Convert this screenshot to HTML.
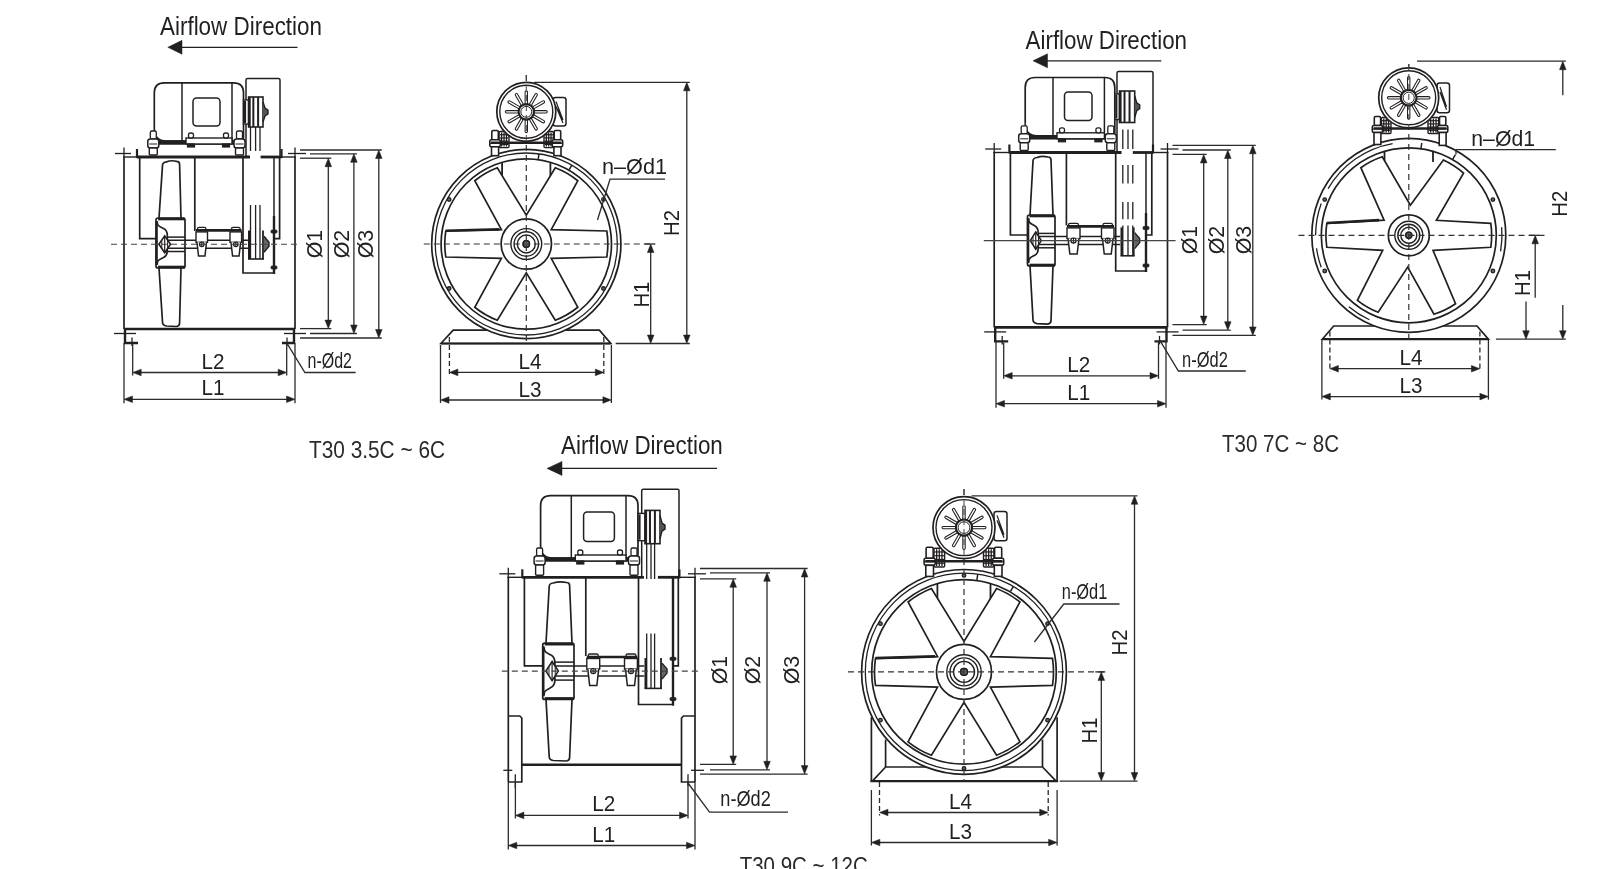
<!DOCTYPE html>
<html><head><meta charset="utf-8"><style>
html,body{margin:0;padding:0;background:#fff;}
svg{display:block;font-family:"Liberation Sans",sans-serif;will-change:transform;}
</style></head><body>
<svg width="1600" height="869" viewBox="0 0 1600 869">
<rect width="1600" height="869" fill="#fff"/>
<text x="160" y="35.4" font-size="25.5" text-anchor="start" fill="#231f20" textLength="162" lengthAdjust="spacingAndGlyphs">Airflow Direction</text>
<line x1="181" y1="47.3" x2="297.5" y2="47.3" stroke="#231f20" stroke-width="1.3" stroke-linecap="butt"/>
<polygon points="167.8,47.3 182,40.3 182,54.3" fill="#231f20" stroke="#231f20" stroke-width="0.5" stroke-linejoin="miter"/>
<line x1="123" y1="157" x2="137" y2="157" stroke="#231f20" stroke-width="1.4" stroke-linecap="butt"/>
<line x1="137" y1="157" x2="250" y2="157" stroke="#231f20" stroke-width="2.8" stroke-linecap="butt"/>
<line x1="260.6" y1="157" x2="281.5" y2="157" stroke="#231f20" stroke-width="2.8" stroke-linecap="butt"/>
<line x1="281.5" y1="157" x2="296" y2="157" stroke="#231f20" stroke-width="1.4" stroke-linecap="butt"/>
<line x1="137" y1="149" x2="137" y2="158" stroke="#231f20" stroke-width="2.2" stroke-linecap="butt"/>
<line x1="281.5" y1="149" x2="281.5" y2="158" stroke="#231f20" stroke-width="2.2" stroke-linecap="butt"/>
<line x1="115" y1="153.5" x2="131" y2="153.5" stroke="#231f20" stroke-width="1.3" stroke-linecap="butt"/>
<line x1="124" y1="147.5" x2="124" y2="157" stroke="#231f20" stroke-width="1.3" stroke-linecap="butt"/>
<line x1="288" y1="153.5" x2="306" y2="153.5" stroke="#231f20" stroke-width="1.3" stroke-linecap="butt"/>
<line x1="295" y1="147.5" x2="295" y2="157" stroke="#231f20" stroke-width="1.3" stroke-linecap="butt"/>
<line x1="124" y1="157" x2="124" y2="329" stroke="#231f20" stroke-width="1.7" stroke-linecap="butt"/>
<line x1="295" y1="157" x2="295" y2="329" stroke="#231f20" stroke-width="1.7" stroke-linecap="butt"/>
<line x1="124" y1="329" x2="295" y2="329" stroke="#231f20" stroke-width="2.6" stroke-linecap="butt"/>
<polyline points="125,329 125,343 138,343" fill="none" stroke="#231f20" stroke-width="2.4" stroke-linejoin="miter"/>
<polyline points="294,329 294,343 282,343" fill="none" stroke="#231f20" stroke-width="2.4" stroke-linejoin="miter"/>
<line x1="114" y1="333.5" x2="136" y2="333.5" stroke="#231f20" stroke-width="1.3" stroke-linecap="butt"/>
<line x1="284" y1="333.5" x2="306" y2="333.5" stroke="#231f20" stroke-width="1.3" stroke-linecap="butt"/>
<line x1="132" y1="337.5" x2="132" y2="346" stroke="#231f20" stroke-width="1.3" stroke-linecap="butt"/>
<line x1="287" y1="337.5" x2="287" y2="346" stroke="#231f20" stroke-width="1.3" stroke-linecap="butt"/>
<polyline points="139.7,157 139.7,238.6 156,238.6" fill="none" stroke="#231f20" stroke-width="1.7" stroke-linejoin="miter"/>
<path d="M159,218 L162.5,165.4 Q162.5,162.4 166.5,161.9 Q171.05,159.9 176.6,161.4 Q179.6,161.4 179.6,164.4 L181,218" fill="none" stroke="#231f20" stroke-width="1.7" />
<path d="M159,268 L162.5,322 Q162.5,325.5 166.5,326 L176.6,326.5 Q179.6,326 179.6,323 L181,268" fill="none" stroke="#231f20" stroke-width="1.7" />
<rect x="156" y="218" width="29" height="50" rx="2" fill="#fff" stroke="#231f20" stroke-width="1.7"/>
<line x1="158" y1="219" x2="185" y2="219" stroke="#231f20" stroke-width="2.6" stroke-linecap="butt"/>
<line x1="158" y1="267" x2="185" y2="267" stroke="#231f20" stroke-width="2.6" stroke-linecap="butt"/>
<path d="M157.45,221.5 C156.58,225.5 159.48,226.5 163.54,228.5 C166.73,230 167.31,233 167.31,235.5 L167.31,250.5 C167.31,253 166.73,256 163.54,257.5 C159.48,259.5 156.58,260.5 157.45,264.5" fill="none" stroke="#231f20" stroke-width="1.7" />
<line x1="156.6" y1="221" x2="156.6" y2="265" stroke="#231f20" stroke-width="2.4" stroke-linecap="butt"/>
<line x1="167.31" y1="237.1" x2="185" y2="237.1" stroke="#231f20" stroke-width="1.5" stroke-linecap="butt"/>
<line x1="167.31" y1="251.5" x2="185" y2="251.5" stroke="#231f20" stroke-width="1.5" stroke-linecap="butt"/>
<line x1="167.31" y1="240.3" x2="248" y2="240.3" stroke="#231f20" stroke-width="1.5" stroke-linecap="butt"/>
<line x1="167.31" y1="248.3" x2="248" y2="248.3" stroke="#231f20" stroke-width="1.5" stroke-linecap="butt"/>
<polygon points="158.9,244.3 164.7,235.8 170.5,244.3 164.7,252.8" fill="#fff" stroke="#231f20" stroke-width="1.6" stroke-linejoin="miter"/>
<line x1="164.7" y1="235.8" x2="164.7" y2="252.8" stroke="#231f20" stroke-width="1.2" stroke-linecap="butt"/>
<line x1="161.8" y1="240.05" x2="161.8" y2="248.55" stroke="#231f20" stroke-width="1.0" stroke-linecap="butt"/>
<line x1="167.6" y1="240.05" x2="167.6" y2="248.55" stroke="#231f20" stroke-width="1.0" stroke-linecap="butt"/>
<line x1="194.8" y1="157" x2="194.8" y2="231" stroke="#231f20" stroke-width="1.7" stroke-linecap="butt"/>
<line x1="196" y1="230.4" x2="241.6" y2="230.4" stroke="#231f20" stroke-width="2.6" stroke-linecap="butt"/>
<rect x="197.5" y="227.4" width="8.5" height="3" rx="1.5" fill="none" stroke="#231f20" stroke-width="1.3"/>
<rect x="196" y="231.9" width="11.5" height="10.4" rx="0" fill="#fff" stroke="#231f20" stroke-width="1.4"/>
<path d="M197,242.3 L198.53,256 L204.97,256 L206.5,242.3" fill="#fff" stroke="#231f20" stroke-width="1.5" />
<circle cx="201.75" cy="244.3" r="2.3" fill="none" stroke="#231f20" stroke-width="1.2"/>
<line x1="199.45" y1="244.3" x2="204.05" y2="244.3" stroke="#231f20" stroke-width="1.0" stroke-linecap="butt"/>
<line x1="201.75" y1="242" x2="201.75" y2="246.6" stroke="#231f20" stroke-width="1.0" stroke-linecap="butt"/>
<rect x="231.5" y="227.4" width="8.6" height="3" rx="1.5" fill="none" stroke="#231f20" stroke-width="1.3"/>
<rect x="230" y="231.9" width="11.6" height="10.4" rx="0" fill="#fff" stroke="#231f20" stroke-width="1.4"/>
<path d="M231,242.3 L232.55,256 L239.05,256 L240.6,242.3" fill="#fff" stroke="#231f20" stroke-width="1.5" />
<circle cx="235.8" cy="244.3" r="2.32" fill="none" stroke="#231f20" stroke-width="1.2"/>
<line x1="233.48" y1="244.3" x2="238.12" y2="244.3" stroke="#231f20" stroke-width="1.0" stroke-linecap="butt"/>
<line x1="235.8" y1="241.98" x2="235.8" y2="246.62" stroke="#231f20" stroke-width="1.0" stroke-linecap="butt"/>
<polyline points="243,157 243,273 274,273" fill="none" stroke="#231f20" stroke-width="1.7" stroke-linejoin="miter"/>
<line x1="274" y1="157" x2="274" y2="274" stroke="#231f20" stroke-width="1.5" stroke-linecap="butt"/>
<line x1="274" y1="216" x2="274" y2="274" stroke="#231f20" stroke-width="2.4" stroke-linecap="butt"/>
<polyline points="279.6,157 279.6,238.6 274,238.6" fill="none" stroke="#231f20" stroke-width="1.7" stroke-linejoin="miter"/>
<rect x="271" y="230.1" width="6" height="3" rx="1" fill="#231f20" stroke="#231f20" stroke-width="0.8"/>
<rect x="271" y="266" width="6" height="3" rx="1" fill="#231f20" stroke="#231f20" stroke-width="0.8"/>
<rect x="248" y="228.5" width="16" height="30.5" rx="0" fill="#fff" stroke="#231f20" stroke-width="0"/>
<line x1="249.2" y1="230.5" x2="249.2" y2="259" stroke="#231f20" stroke-width="2.4" stroke-linecap="butt"/>
<line x1="263" y1="230.5" x2="263" y2="259" stroke="#231f20" stroke-width="1.8" stroke-linecap="butt"/>
<line x1="248" y1="259" x2="264" y2="259" stroke="#231f20" stroke-width="1.6" stroke-linecap="butt"/>
<line x1="250.5" y1="228.5" x2="250.5" y2="259" stroke="#231f20" stroke-width="1.3" stroke-linecap="butt"/>
<line x1="255.6" y1="228.5" x2="255.6" y2="259" stroke="#231f20" stroke-width="1.3" stroke-linecap="butt"/>
<line x1="260" y1="228.5" x2="260" y2="259" stroke="#231f20" stroke-width="1.3" stroke-linecap="butt"/>
<path d="M264,236.3 L269,242.3 L269,246.3 L264,252.3" fill="#666" stroke="#231f20" stroke-width="1.4" />
<line x1="250.5" y1="127" x2="250.5" y2="151" stroke="#231f20" stroke-width="1.3" stroke-linecap="butt"/>
<line x1="250.5" y1="205" x2="250.5" y2="229" stroke="#231f20" stroke-width="1.3" stroke-linecap="butt"/>
<line x1="255.6" y1="127" x2="255.6" y2="151" stroke="#231f20" stroke-width="1.3" stroke-linecap="butt"/>
<line x1="255.6" y1="205" x2="255.6" y2="229" stroke="#231f20" stroke-width="1.3" stroke-linecap="butt"/>
<line x1="260" y1="127" x2="260" y2="151" stroke="#231f20" stroke-width="1.3" stroke-linecap="butt"/>
<line x1="260" y1="205" x2="260" y2="229" stroke="#231f20" stroke-width="1.3" stroke-linecap="butt"/>
<path d="M154.3,129 L154.3,92.8 Q154.3,82.8 164.3,82.8 L233.5,82.8 Q243.5,82.8 243.5,92.8 L243.5,137 Q243.5,141 239.5,144" fill="none" stroke="#231f20" stroke-width="1.7" />
<path d="M154.3,129 Q154.3,141 166.3,141 L233.5,141" fill="none" stroke="#231f20" stroke-width="1.7" />
<line x1="182" y1="82.8" x2="182" y2="141" stroke="#231f20" stroke-width="1.5" stroke-linecap="butt"/>
<line x1="232" y1="82.8" x2="232" y2="141" stroke="#231f20" stroke-width="1.5" stroke-linecap="butt"/>
<rect x="193" y="98" width="27" height="28" rx="3.5" fill="none" stroke="#231f20" stroke-width="1.5"/>
<rect x="150.3" y="141" width="91.2" height="3" rx="0" fill="#231f20" stroke="#231f20" stroke-width="1.5"/>
<rect x="186" y="138" width="46" height="6" rx="0" fill="#fff" stroke="#231f20" stroke-width="1.4"/>
<rect x="150.3" y="131" width="6" height="8" rx="1.5" fill="#fff" stroke="#231f20" stroke-width="1.3"/>
<rect x="147.8" y="139" width="11" height="9" rx="2.5" fill="#fff" stroke="#231f20" stroke-width="1.5"/>
<rect x="149.3" y="148" width="8" height="7" rx="1" fill="#fff" stroke="#231f20" stroke-width="1.4"/>
<line x1="149.3" y1="144" x2="157.3" y2="144" stroke="#231f20" stroke-width="1" stroke-linecap="butt"/>
<rect x="236.5" y="131" width="6" height="8" rx="1.5" fill="#fff" stroke="#231f20" stroke-width="1.3"/>
<rect x="234" y="139" width="11" height="9" rx="2.5" fill="#fff" stroke="#231f20" stroke-width="1.5"/>
<rect x="235.5" y="148" width="8" height="7" rx="1" fill="#fff" stroke="#231f20" stroke-width="1.4"/>
<line x1="235.5" y1="144" x2="243.5" y2="144" stroke="#231f20" stroke-width="1" stroke-linecap="butt"/>
<rect x="188.5" y="133" width="5" height="5" rx="2" fill="#fff" stroke="#231f20" stroke-width="1.3"/>
<rect x="187.5" y="144" width="7" height="3" rx="0" fill="#231f20" stroke="#231f20" stroke-width="1.2"/>
<rect x="223.5" y="133" width="5" height="5" rx="2" fill="#fff" stroke="#231f20" stroke-width="1.3"/>
<rect x="222.5" y="144" width="7" height="3" rx="0" fill="#231f20" stroke="#231f20" stroke-width="1.2"/>
<path d="M246,156 L246,79.9 Q246,78.4 247.5,78.4 L278.5,78.4 Q280,78.4 280,79.9 L280,156" fill="none" stroke="#231f20" stroke-width="1.5" />
<rect x="243.5" y="100" width="5.1" height="24" rx="0" fill="#fff" stroke="#231f20" stroke-width="1.4"/>
<line x1="245" y1="101" x2="245" y2="123" stroke="#231f20" stroke-width="2.2" stroke-linecap="butt"/>
<rect x="248.6" y="97" width="14.4" height="30" rx="0" fill="#fff" stroke="#231f20" stroke-width="1.6"/>
<line x1="253.35" y1="97" x2="253.35" y2="127" stroke="#231f20" stroke-width="2.0" stroke-linecap="butt"/>
<line x1="258.1" y1="97" x2="258.1" y2="127" stroke="#231f20" stroke-width="2.0" stroke-linecap="butt"/>
<line x1="249.6" y1="97" x2="249.6" y2="127" stroke="#231f20" stroke-width="2.2" stroke-linecap="butt"/>
<path d="M263,102 L265,108 L268,110 L268,114 L265,116 L263,122" fill="#555" stroke="#231f20" stroke-width="1.4" />
<line x1="111" y1="244.3" x2="298" y2="244.3" stroke="#444" stroke-width="1.1" stroke-dasharray="6 4" stroke-linecap="butt"/>
<line x1="328.3" y1="162.2" x2="328.3" y2="324.6" stroke="#2b2b2b" stroke-width="1.3" stroke-linecap="butt"/>
<polygon points="328.3,158.2 331.6,166.7 325,166.7" fill="#231f20" stroke="#231f20" stroke-width="0.5" stroke-linejoin="miter"/>
<polygon points="328.3,328.6 325,320.1 331.6,320.1" fill="#231f20" stroke="#231f20" stroke-width="0.5" stroke-linejoin="miter"/>
<line x1="353.9" y1="157.8" x2="353.9" y2="329.5" stroke="#2b2b2b" stroke-width="1.3" stroke-linecap="butt"/>
<polygon points="353.9,153.8 357.2,162.3 350.6,162.3" fill="#231f20" stroke="#231f20" stroke-width="0.5" stroke-linejoin="miter"/>
<polygon points="353.9,333.5 350.6,325 357.2,325" fill="#231f20" stroke="#231f20" stroke-width="0.5" stroke-linejoin="miter"/>
<line x1="378.8" y1="154" x2="378.8" y2="334" stroke="#2b2b2b" stroke-width="1.3" stroke-linecap="butt"/>
<polygon points="378.8,150 382.1,158.5 375.5,158.5" fill="#231f20" stroke="#231f20" stroke-width="0.5" stroke-linejoin="miter"/>
<polygon points="378.8,338 375.5,329.5 382.1,329.5" fill="#231f20" stroke="#231f20" stroke-width="0.5" stroke-linejoin="miter"/>
<line x1="300" y1="158.2" x2="331.3" y2="158.2" stroke="#2b2b2b" stroke-width="1.3" stroke-linecap="butt"/>
<line x1="300" y1="328.6" x2="331.3" y2="328.6" stroke="#2b2b2b" stroke-width="1.3" stroke-linecap="butt"/>
<line x1="310" y1="153.8" x2="356.9" y2="153.8" stroke="#2b2b2b" stroke-width="1.3" stroke-linecap="butt"/>
<line x1="310" y1="333.5" x2="356.9" y2="333.5" stroke="#2b2b2b" stroke-width="1.3" stroke-linecap="butt"/>
<line x1="300" y1="150" x2="381.8" y2="150" stroke="#2b2b2b" stroke-width="1.3" stroke-linecap="butt"/>
<line x1="300" y1="338" x2="381.8" y2="338" stroke="#2b2b2b" stroke-width="1.3" stroke-linecap="butt"/>
<text transform="translate(322.42,244) rotate(-90)" font-size="22" text-anchor="middle" fill="#231f20" textLength="28.6" lengthAdjust="spacingAndGlyphs">Ø1</text>
<text transform="translate(349.42,244) rotate(-90)" font-size="22" text-anchor="middle" fill="#231f20" textLength="28.6" lengthAdjust="spacingAndGlyphs">Ø2</text>
<text transform="translate(373.42,244) rotate(-90)" font-size="22" text-anchor="middle" fill="#231f20" textLength="28.6" lengthAdjust="spacingAndGlyphs">Ø3</text>
<line x1="136.7" y1="372.5" x2="282.7" y2="372.5" stroke="#2b2b2b" stroke-width="1.3" stroke-linecap="butt"/>
<polygon points="132.7,372.5 141.2,369.2 141.2,375.8" fill="#231f20" stroke="#231f20" stroke-width="0.5" stroke-linejoin="miter"/>
<polygon points="286.7,372.5 278.2,375.8 278.2,369.2" fill="#231f20" stroke="#231f20" stroke-width="0.5" stroke-linejoin="miter"/>
<line x1="128" y1="399.3" x2="291" y2="399.3" stroke="#2b2b2b" stroke-width="1.3" stroke-linecap="butt"/>
<polygon points="124,399.3 132.5,396 132.5,402.6" fill="#231f20" stroke="#231f20" stroke-width="0.5" stroke-linejoin="miter"/>
<polygon points="295,399.3 286.5,402.6 286.5,396" fill="#231f20" stroke="#231f20" stroke-width="0.5" stroke-linejoin="miter"/>
<line x1="132.7" y1="344" x2="132.7" y2="375.5" stroke="#2b2b2b" stroke-width="1.3" stroke-linecap="butt"/>
<line x1="286.7" y1="344" x2="286.7" y2="375.5" stroke="#2b2b2b" stroke-width="1.3" stroke-linecap="butt"/>
<line x1="124" y1="343" x2="124" y2="403.3" stroke="#2b2b2b" stroke-width="1.3" stroke-linecap="butt"/>
<line x1="295" y1="343" x2="295" y2="403.3" stroke="#2b2b2b" stroke-width="1.3" stroke-linecap="butt"/>
<text x="213" y="368.5" font-size="21.5" text-anchor="middle" fill="#231f20" textLength="23" lengthAdjust="spacingAndGlyphs">L2</text>
<text x="213" y="395.3" font-size="21.5" text-anchor="middle" fill="#231f20" textLength="23" lengthAdjust="spacingAndGlyphs">L1</text>
<text x="307.6" y="368" font-size="21.5" text-anchor="start" fill="#231f20" textLength="44.4" lengthAdjust="spacingAndGlyphs">n-Ød2</text>
<polyline points="287.6,344.4 304.9,372.5 355.6,372.5" fill="none" stroke="#2b2b2b" stroke-width="1.3" stroke-linejoin="miter"/>
<polygon points="440.9,343.5 453.2,330.2 599.4,330.2 610.8,343.5" fill="none" stroke="#231f20" stroke-width="1.7" stroke-linejoin="miter"/>
<line x1="440.9" y1="343.5" x2="610.8" y2="343.5" stroke="#231f20" stroke-width="2.2" stroke-linecap="butt"/>
<circle cx="526.3" cy="244" r="94.6" fill="#fff" stroke="#231f20" stroke-width="1.7"/>
<circle cx="526.3" cy="244" r="91" fill="none" stroke="#231f20" stroke-width="1.3"/>
<circle cx="526.3" cy="244" r="85.2" fill="none" stroke="#231f20" stroke-width="1.7"/>
<circle cx="603.46" cy="199.45" r="1.8" fill="#666" stroke="#231f20" stroke-width="1.3"/>
<circle cx="449.14" cy="199.45" r="1.8" fill="#666" stroke="#231f20" stroke-width="1.3"/>
<circle cx="449.14" cy="288.55" r="1.8" fill="#666" stroke="#231f20" stroke-width="1.3"/>
<circle cx="603.46" cy="288.55" r="1.8" fill="#666" stroke="#231f20" stroke-width="1.3"/>
<line x1="538.96" y1="153.89" x2="538.23" y2="159.13" stroke="#231f20" stroke-width="1.5" stroke-linecap="butt"/>
<line x1="571.8" y1="165.19" x2="569.15" y2="169.78" stroke="#231f20" stroke-width="1.5" stroke-linecap="butt"/>
<line x1="502.1" y1="162.31" x2="502.1" y2="178" stroke="#231f20" stroke-width="1.8" stroke-linecap="butt"/>
<line x1="550.4" y1="162.28" x2="550.4" y2="178" stroke="#231f20" stroke-width="1.8" stroke-linecap="butt"/>
<path d="M551.21,258.38 L606.8,257 A81.54,81.54 0 0 0 606.8,231 L551.21,229.62 L577.81,180.78 A81.54,81.54 0 0 0 555.29,167.78 L526.3,215.24 L497.31,167.78 A81.54,81.54 0 0 0 474.79,180.78 L501.39,229.62 L445.8,231 A81.54,81.54 0 0 0 445.8,257 L501.39,258.38 L474.79,307.22 A81.54,81.54 0 0 0 497.31,320.22 L526.3,272.76 L555.29,320.22 A81.54,81.54 0 0 0 577.81,307.22 Z" fill="#fff" stroke="#231f20" stroke-width="1.7" />
<line x1="445.8" y1="230.7" x2="499.3" y2="229.37" stroke="#231f20" stroke-width="2.6" stroke-linecap="butt"/>
<circle cx="526.3" cy="244" r="25.2" fill="#fff" stroke="#231f20" stroke-width="1.7"/>
<circle cx="526.3" cy="244" r="15.4" fill="none" stroke="#231f20" stroke-width="1.4"/>
<circle cx="526.3" cy="244" r="12.2" fill="none" stroke="#231f20" stroke-width="1.4"/>
<circle cx="526.3" cy="244" r="9" fill="none" stroke="#231f20" stroke-width="1.4"/>
<circle cx="526.3" cy="244" r="3.2" fill="none" stroke="#231f20" stroke-width="1.4"/>
<circle cx="526.3" cy="244" r="3.2" fill="#666" stroke="#231f20" stroke-width="1.4"/>
<line x1="423.8" y1="244" x2="655.4" y2="244" stroke="#333" stroke-width="1.2" stroke-dasharray="6 4" stroke-linecap="butt"/>
<line x1="526.3" y1="75" x2="526.3" y2="343.5" stroke="#333" stroke-width="1.2" stroke-dasharray="6 4" stroke-linecap="butt"/>
<rect x="499.1" y="131.5" width="9.9" height="16.1" rx="1" fill="#fff" stroke="#231f20" stroke-width="1.4"/>
<line x1="501.58" y1="132.5" x2="501.58" y2="146.6" stroke="#231f20" stroke-width="1.3" stroke-linecap="butt"/>
<line x1="504.05" y1="132.5" x2="504.05" y2="146.6" stroke="#231f20" stroke-width="1.3" stroke-linecap="butt"/>
<line x1="506.52" y1="132.5" x2="506.52" y2="146.6" stroke="#231f20" stroke-width="1.3" stroke-linecap="butt"/>
<line x1="499.6" y1="134.72" x2="508.5" y2="134.72" stroke="#231f20" stroke-width="1.2" stroke-linecap="butt"/>
<line x1="499.6" y1="137.94" x2="508.5" y2="137.94" stroke="#231f20" stroke-width="1.2" stroke-linecap="butt"/>
<line x1="499.6" y1="141.16" x2="508.5" y2="141.16" stroke="#231f20" stroke-width="1.2" stroke-linecap="butt"/>
<line x1="499.6" y1="144.38" x2="508.5" y2="144.38" stroke="#231f20" stroke-width="1.2" stroke-linecap="butt"/>
<rect x="491.8" y="130.5" width="6.5" height="9.3" rx="1.2" fill="#fff" stroke="#231f20" stroke-width="1.6"/>
<rect x="489.8" y="139.8" width="10.5" height="7" rx="1.5" fill="#fff" stroke="#231f20" stroke-width="1.6"/>
<rect x="491.5" y="146.8" width="7.1" height="8.91" rx="0" fill="#fff" stroke="#231f20" stroke-width="1.6"/>
<line x1="490" y1="143.3" x2="500.1" y2="143.3" stroke="#231f20" stroke-width="1.0" stroke-linecap="butt"/>
<rect x="544" y="131.5" width="9.4" height="16.1" rx="1" fill="#fff" stroke="#231f20" stroke-width="1.4"/>
<line x1="546.35" y1="132.5" x2="546.35" y2="146.6" stroke="#231f20" stroke-width="1.3" stroke-linecap="butt"/>
<line x1="548.7" y1="132.5" x2="548.7" y2="146.6" stroke="#231f20" stroke-width="1.3" stroke-linecap="butt"/>
<line x1="551.05" y1="132.5" x2="551.05" y2="146.6" stroke="#231f20" stroke-width="1.3" stroke-linecap="butt"/>
<line x1="544.5" y1="134.72" x2="552.9" y2="134.72" stroke="#231f20" stroke-width="1.2" stroke-linecap="butt"/>
<line x1="544.5" y1="137.94" x2="552.9" y2="137.94" stroke="#231f20" stroke-width="1.2" stroke-linecap="butt"/>
<line x1="544.5" y1="141.16" x2="552.9" y2="141.16" stroke="#231f20" stroke-width="1.2" stroke-linecap="butt"/>
<line x1="544.5" y1="144.38" x2="552.9" y2="144.38" stroke="#231f20" stroke-width="1.2" stroke-linecap="butt"/>
<rect x="554.2" y="130.5" width="6.5" height="9.3" rx="1.2" fill="#fff" stroke="#231f20" stroke-width="1.6"/>
<rect x="552.2" y="139.8" width="10.5" height="7" rx="1.5" fill="#fff" stroke="#231f20" stroke-width="1.6"/>
<rect x="553.9" y="146.8" width="7.1" height="8.88" rx="0" fill="#fff" stroke="#231f20" stroke-width="1.6"/>
<line x1="552.4" y1="143.3" x2="562.5" y2="143.3" stroke="#231f20" stroke-width="1.0" stroke-linecap="butt"/>
<line x1="491" y1="142.8" x2="561.5" y2="142.8" stroke="#231f20" stroke-width="2.6" stroke-linecap="butt"/>
<rect x="553" y="97.5" width="13" height="28.5" rx="2.5" fill="#fff" stroke="#231f20" stroke-width="1.5"/>
<polyline points="556,101.5 563,120 556,106.5 563,123" fill="none" stroke="#231f20" stroke-width="1.2" stroke-linejoin="miter"/>
<circle cx="526.3" cy="111.8" r="29.5" fill="#fff" stroke="#231f20" stroke-width="1.7"/>
<circle cx="526.3" cy="111.8" r="26.5" fill="none" stroke="#231f20" stroke-width="1.4"/>
<circle cx="526.3" cy="111.8" r="7.67" fill="none" stroke="#231f20" stroke-width="2.2"/>
<circle cx="526.3" cy="111.8" r="5.47" fill="none" stroke="#231f20" stroke-width="1.0"/>
<line x1="535.15" y1="111.8" x2="546.06" y2="111.8" stroke="#231f20" stroke-width="3.4" stroke-linecap="round"/>
<line x1="535.15" y1="111.8" x2="546.06" y2="111.8" stroke="#fff" stroke-width="1.3" stroke-linecap="round"/>
<line x1="533.96" y1="116.22" x2="543.42" y2="121.68" stroke="#231f20" stroke-width="3.4" stroke-linecap="round"/>
<line x1="533.96" y1="116.22" x2="543.42" y2="121.68" stroke="#fff" stroke-width="1.3" stroke-linecap="round"/>
<line x1="530.72" y1="119.46" x2="536.18" y2="128.92" stroke="#231f20" stroke-width="3.4" stroke-linecap="round"/>
<line x1="530.72" y1="119.46" x2="536.18" y2="128.92" stroke="#fff" stroke-width="1.3" stroke-linecap="round"/>
<line x1="526.3" y1="120.65" x2="526.3" y2="131.56" stroke="#231f20" stroke-width="3.4" stroke-linecap="round"/>
<line x1="526.3" y1="120.65" x2="526.3" y2="131.56" stroke="#fff" stroke-width="1.3" stroke-linecap="round"/>
<line x1="521.88" y1="119.46" x2="516.42" y2="128.92" stroke="#231f20" stroke-width="3.4" stroke-linecap="round"/>
<line x1="521.88" y1="119.46" x2="516.42" y2="128.92" stroke="#fff" stroke-width="1.3" stroke-linecap="round"/>
<line x1="518.64" y1="116.22" x2="509.18" y2="121.68" stroke="#231f20" stroke-width="3.4" stroke-linecap="round"/>
<line x1="518.64" y1="116.22" x2="509.18" y2="121.68" stroke="#fff" stroke-width="1.3" stroke-linecap="round"/>
<line x1="517.45" y1="111.8" x2="506.53" y2="111.8" stroke="#231f20" stroke-width="3.4" stroke-linecap="round"/>
<line x1="517.45" y1="111.8" x2="506.53" y2="111.8" stroke="#fff" stroke-width="1.3" stroke-linecap="round"/>
<line x1="518.64" y1="107.38" x2="509.18" y2="101.92" stroke="#231f20" stroke-width="3.4" stroke-linecap="round"/>
<line x1="518.64" y1="107.38" x2="509.18" y2="101.92" stroke="#fff" stroke-width="1.3" stroke-linecap="round"/>
<line x1="521.88" y1="104.14" x2="516.42" y2="94.68" stroke="#231f20" stroke-width="3.4" stroke-linecap="round"/>
<line x1="521.88" y1="104.14" x2="516.42" y2="94.68" stroke="#fff" stroke-width="1.3" stroke-linecap="round"/>
<line x1="526.3" y1="102.95" x2="526.3" y2="92.03" stroke="#231f20" stroke-width="3.4" stroke-linecap="round"/>
<line x1="526.3" y1="102.95" x2="526.3" y2="92.03" stroke="#fff" stroke-width="1.3" stroke-linecap="round"/>
<line x1="530.72" y1="104.14" x2="536.18" y2="94.68" stroke="#231f20" stroke-width="3.4" stroke-linecap="round"/>
<line x1="530.72" y1="104.14" x2="536.18" y2="94.68" stroke="#fff" stroke-width="1.3" stroke-linecap="round"/>
<line x1="533.96" y1="107.38" x2="543.42" y2="101.92" stroke="#231f20" stroke-width="3.4" stroke-linecap="round"/>
<line x1="533.96" y1="107.38" x2="543.42" y2="101.92" stroke="#fff" stroke-width="1.3" stroke-linecap="round"/>
<circle cx="526.3" cy="111.8" r="7.67" fill="#fff" stroke="#231f20" stroke-width="2.0"/>
<circle cx="526.3" cy="111.8" r="5.47" fill="none" stroke="#231f20" stroke-width="1.0"/>
<line x1="526.3" y1="75" x2="526.3" y2="141.3" stroke="#444" stroke-width="1.0" stroke-dasharray="6 4" stroke-linecap="butt"/>
<line x1="650.7" y1="248" x2="650.7" y2="339.5" stroke="#2b2b2b" stroke-width="1.3" stroke-linecap="butt"/>
<polygon points="650.7,244 654,252.5 647.4,252.5" fill="#231f20" stroke="#231f20" stroke-width="0.5" stroke-linejoin="miter"/>
<polygon points="650.7,343.5 647.4,335 654,335" fill="#231f20" stroke="#231f20" stroke-width="0.5" stroke-linejoin="miter"/>
<line x1="686.8" y1="86.3" x2="686.8" y2="339.5" stroke="#2b2b2b" stroke-width="1.3" stroke-linecap="butt"/>
<polygon points="686.8,82.3 690.1,90.8 683.5,90.8" fill="#231f20" stroke="#231f20" stroke-width="0.5" stroke-linejoin="miter"/>
<polygon points="686.8,343.5 683.5,335 690.1,335" fill="#231f20" stroke="#231f20" stroke-width="0.5" stroke-linejoin="miter"/>
<line x1="534" y1="82.3" x2="689.8" y2="82.3" stroke="#2b2b2b" stroke-width="1.3" stroke-linecap="butt"/>
<line x1="615.6" y1="343.5" x2="689.8" y2="343.5" stroke="#2b2b2b" stroke-width="1.3" stroke-linecap="butt"/>
<line x1="644.7" y1="244" x2="654.7" y2="244" stroke="#2b2b2b" stroke-width="1.3" stroke-linecap="butt"/>
<text transform="translate(648.5,294.6) rotate(-90)" font-size="21.5" text-anchor="middle" fill="#231f20" textLength="26" lengthAdjust="spacingAndGlyphs">H1</text>
<text transform="translate(679,223) rotate(-90)" font-size="21.5" text-anchor="middle" fill="#231f20" textLength="26" lengthAdjust="spacingAndGlyphs">H2</text>
<line x1="453.4" y1="372.4" x2="599.8" y2="372.4" stroke="#2b2b2b" stroke-width="1.3" stroke-linecap="butt"/>
<polygon points="449.4,372.4 457.9,369.1 457.9,375.7" fill="#231f20" stroke="#231f20" stroke-width="0.5" stroke-linejoin="miter"/>
<polygon points="603.8,372.4 595.3,375.7 595.3,369.1" fill="#231f20" stroke="#231f20" stroke-width="0.5" stroke-linejoin="miter"/>
<line x1="444.5" y1="400" x2="607.4" y2="400" stroke="#2b2b2b" stroke-width="1.3" stroke-linecap="butt"/>
<polygon points="440.5,400 449,396.7 449,403.3" fill="#231f20" stroke="#231f20" stroke-width="0.5" stroke-linejoin="miter"/>
<polygon points="611.4,400 602.9,403.3 602.9,396.7" fill="#231f20" stroke="#231f20" stroke-width="0.5" stroke-linejoin="miter"/>
<line x1="449.4" y1="337" x2="449.4" y2="375.4" stroke="#2b2b2b" stroke-width="1.3" stroke-dasharray="5 3" stroke-linecap="butt"/>
<line x1="603.8" y1="337" x2="603.8" y2="375.4" stroke="#2b2b2b" stroke-width="1.3" stroke-dasharray="5 3" stroke-linecap="butt"/>
<line x1="440.5" y1="345" x2="440.5" y2="403" stroke="#2b2b2b" stroke-width="1.3" stroke-linecap="butt"/>
<line x1="611.4" y1="345" x2="611.4" y2="403" stroke="#2b2b2b" stroke-width="1.3" stroke-linecap="butt"/>
<text x="530" y="368.9" font-size="21.5" text-anchor="middle" fill="#231f20" textLength="23" lengthAdjust="spacingAndGlyphs">L4</text>
<text x="530" y="396.5" font-size="21.5" text-anchor="middle" fill="#231f20" textLength="23" lengthAdjust="spacingAndGlyphs">L3</text>
<text x="602" y="174.4" font-size="21.5" text-anchor="start" fill="#231f20" textLength="65" lengthAdjust="spacingAndGlyphs">n–Ød1</text>
<polyline points="597.5,220 610,179.2 665,179.2" fill="none" stroke="#2b2b2b" stroke-width="1.3" stroke-linejoin="miter"/>
<text x="309" y="458.2" font-size="23" text-anchor="start" fill="#2a2a2a" textLength="136" lengthAdjust="spacingAndGlyphs">T30 3.5C ~ 6C</text>
<text x="1025.6" y="49.4" font-size="25.5" text-anchor="start" fill="#231f20" textLength="161.4" lengthAdjust="spacingAndGlyphs">Airflow Direction</text>
<line x1="1046.5" y1="60.8" x2="1161.3" y2="60.8" stroke="#231f20" stroke-width="1.3" stroke-linecap="butt"/>
<polygon points="1033,60.8 1047.5,53.8 1047.5,67.8" fill="#231f20" stroke="#231f20" stroke-width="0.5" stroke-linejoin="miter"/>
<line x1="993.2" y1="152.5" x2="1009.4" y2="152.5" stroke="#231f20" stroke-width="1.4" stroke-linecap="butt"/>
<line x1="1009.4" y1="152.5" x2="1121.5" y2="152.5" stroke="#231f20" stroke-width="2.8" stroke-linecap="butt"/>
<line x1="1132.8" y1="152.5" x2="1153" y2="152.5" stroke="#231f20" stroke-width="2.8" stroke-linecap="butt"/>
<line x1="1153" y1="152.5" x2="1168.5" y2="152.5" stroke="#231f20" stroke-width="1.4" stroke-linecap="butt"/>
<line x1="1009.4" y1="144.5" x2="1009.4" y2="153.5" stroke="#231f20" stroke-width="2.2" stroke-linecap="butt"/>
<line x1="1153" y1="144.5" x2="1153" y2="153.5" stroke="#231f20" stroke-width="2.2" stroke-linecap="butt"/>
<line x1="985.2" y1="149" x2="1001.2" y2="149" stroke="#231f20" stroke-width="1.3" stroke-linecap="butt"/>
<line x1="994.2" y1="143" x2="994.2" y2="152.5" stroke="#231f20" stroke-width="1.3" stroke-linecap="butt"/>
<line x1="1160.5" y1="149" x2="1178.5" y2="149" stroke="#231f20" stroke-width="1.3" stroke-linecap="butt"/>
<line x1="1167.5" y1="143" x2="1167.5" y2="152.5" stroke="#231f20" stroke-width="1.3" stroke-linecap="butt"/>
<line x1="994.2" y1="152.5" x2="994.2" y2="327.4" stroke="#231f20" stroke-width="1.7" stroke-linecap="butt"/>
<line x1="1167.5" y1="152.5" x2="1167.5" y2="327.4" stroke="#231f20" stroke-width="1.7" stroke-linecap="butt"/>
<line x1="994.2" y1="327.4" x2="1167.5" y2="327.4" stroke="#231f20" stroke-width="2.6" stroke-linecap="butt"/>
<polyline points="995.2,327.4 995.2,341.4 1008.2,341.4" fill="none" stroke="#231f20" stroke-width="2.4" stroke-linejoin="miter"/>
<polyline points="1166.5,327.4 1166.5,341.4 1154.5,341.4" fill="none" stroke="#231f20" stroke-width="2.4" stroke-linejoin="miter"/>
<line x1="984.2" y1="331.9" x2="1006.2" y2="331.9" stroke="#231f20" stroke-width="1.3" stroke-linecap="butt"/>
<line x1="1156.5" y1="331.9" x2="1178.5" y2="331.9" stroke="#231f20" stroke-width="1.3" stroke-linecap="butt"/>
<line x1="1002.2" y1="335.9" x2="1002.2" y2="344.4" stroke="#231f20" stroke-width="1.3" stroke-linecap="butt"/>
<line x1="1159.5" y1="335.9" x2="1159.5" y2="344.4" stroke="#231f20" stroke-width="1.3" stroke-linecap="butt"/>
<polyline points="1010.4,152.5 1010.4,235 1027.5,235" fill="none" stroke="#231f20" stroke-width="1.7" stroke-linejoin="miter"/>
<path d="M1030,215 L1033,161 Q1033,158 1037,157.5 Q1042,155.5 1048,157 Q1051,157 1051,160 L1053,215" fill="none" stroke="#231f20" stroke-width="1.7" />
<path d="M1030,266 L1033,319.6 Q1033,323.1 1037,323.6 L1048,324.1 Q1051,323.6 1051,320.6 L1053,266" fill="none" stroke="#231f20" stroke-width="1.7" />
<rect x="1027.5" y="215" width="27.5" height="51" rx="2" fill="#fff" stroke="#231f20" stroke-width="1.7"/>
<line x1="1029.5" y1="216" x2="1055" y2="216" stroke="#231f20" stroke-width="2.6" stroke-linecap="butt"/>
<line x1="1029.5" y1="265" x2="1055" y2="265" stroke="#231f20" stroke-width="2.6" stroke-linecap="butt"/>
<path d="M1028.88,218.57 C1028.05,222.65 1030.8,223.67 1034.65,225.71 C1037.67,227.24 1038.22,230.3 1038.22,232.85 L1038.22,248.15 C1038.22,250.7 1037.67,253.76 1034.65,255.29 C1030.8,257.33 1028.05,258.35 1028.88,262.43" fill="none" stroke="#231f20" stroke-width="1.7" />
<line x1="1028.1" y1="218" x2="1028.1" y2="263" stroke="#231f20" stroke-width="2.4" stroke-linecap="butt"/>
<line x1="1038.22" y1="233.4" x2="1055" y2="233.4" stroke="#231f20" stroke-width="1.5" stroke-linecap="butt"/>
<line x1="1038.22" y1="247.8" x2="1055" y2="247.8" stroke="#231f20" stroke-width="1.5" stroke-linecap="butt"/>
<line x1="1038.22" y1="236.6" x2="1120.5" y2="236.6" stroke="#231f20" stroke-width="1.5" stroke-linecap="butt"/>
<line x1="1038.22" y1="244.6" x2="1120.5" y2="244.6" stroke="#231f20" stroke-width="1.5" stroke-linecap="butt"/>
<polygon points="1030.25,240.6 1035.75,231.93 1041.25,240.6 1035.75,249.27" fill="#fff" stroke="#231f20" stroke-width="1.6" stroke-linejoin="miter"/>
<line x1="1035.75" y1="231.93" x2="1035.75" y2="249.27" stroke="#231f20" stroke-width="1.2" stroke-linecap="butt"/>
<line x1="1033" y1="236.26" x2="1033" y2="244.94" stroke="#231f20" stroke-width="1.0" stroke-linecap="butt"/>
<line x1="1038.5" y1="236.26" x2="1038.5" y2="244.94" stroke="#231f20" stroke-width="1.0" stroke-linecap="butt"/>
<line x1="1066.4" y1="152.5" x2="1066.4" y2="225.4" stroke="#231f20" stroke-width="1.7" stroke-linecap="butt"/>
<line x1="1067" y1="226.4" x2="1114" y2="226.4" stroke="#231f20" stroke-width="2.6" stroke-linecap="butt"/>
<rect x="1068.5" y="223.4" width="10" height="3" rx="1.5" fill="none" stroke="#231f20" stroke-width="1.3"/>
<rect x="1067" y="227.9" width="13" height="10.7" rx="0" fill="#fff" stroke="#231f20" stroke-width="1.4"/>
<path d="M1068,238.6 L1069.86,254 L1077.14,254 L1079,238.6" fill="#fff" stroke="#231f20" stroke-width="1.5" />
<circle cx="1073.5" cy="240.6" r="2.6" fill="none" stroke="#231f20" stroke-width="1.2"/>
<line x1="1070.9" y1="240.6" x2="1076.1" y2="240.6" stroke="#231f20" stroke-width="1.0" stroke-linecap="butt"/>
<line x1="1073.5" y1="238" x2="1073.5" y2="243.2" stroke="#231f20" stroke-width="1.0" stroke-linecap="butt"/>
<rect x="1103" y="223.4" width="9.5" height="3" rx="1.5" fill="none" stroke="#231f20" stroke-width="1.3"/>
<rect x="1101.5" y="227.9" width="12.5" height="10.7" rx="0" fill="#fff" stroke="#231f20" stroke-width="1.4"/>
<path d="M1102.5,238.6 L1104.25,254 L1111.25,254 L1113,238.6" fill="#fff" stroke="#231f20" stroke-width="1.5" />
<circle cx="1107.75" cy="240.6" r="2.5" fill="none" stroke="#231f20" stroke-width="1.2"/>
<line x1="1105.25" y1="240.6" x2="1110.25" y2="240.6" stroke="#231f20" stroke-width="1.0" stroke-linecap="butt"/>
<line x1="1107.75" y1="238.1" x2="1107.75" y2="243.1" stroke="#231f20" stroke-width="1.0" stroke-linecap="butt"/>
<polyline points="1115.7,152.5 1115.7,271 1146,271" fill="none" stroke="#231f20" stroke-width="1.7" stroke-linejoin="miter"/>
<line x1="1146" y1="152.5" x2="1146" y2="272" stroke="#231f20" stroke-width="1.5" stroke-linecap="butt"/>
<line x1="1146" y1="213" x2="1146" y2="272" stroke="#231f20" stroke-width="2.4" stroke-linecap="butt"/>
<polyline points="1151.8,152.5 1151.8,235 1146,235" fill="none" stroke="#231f20" stroke-width="1.7" stroke-linejoin="miter"/>
<rect x="1143" y="226.5" width="6" height="3" rx="1" fill="#231f20" stroke="#231f20" stroke-width="0.8"/>
<rect x="1143" y="264" width="6" height="3" rx="1" fill="#231f20" stroke="#231f20" stroke-width="0.8"/>
<rect x="1120.5" y="225.4" width="14.2" height="30.4" rx="0" fill="#fff" stroke="#231f20" stroke-width="0"/>
<line x1="1121.7" y1="227.4" x2="1121.7" y2="255.8" stroke="#231f20" stroke-width="2.4" stroke-linecap="butt"/>
<line x1="1133.7" y1="227.4" x2="1133.7" y2="255.8" stroke="#231f20" stroke-width="1.8" stroke-linecap="butt"/>
<line x1="1120.5" y1="255.8" x2="1134.7" y2="255.8" stroke="#231f20" stroke-width="1.6" stroke-linecap="butt"/>
<line x1="1122.8" y1="225.4" x2="1122.8" y2="255.8" stroke="#231f20" stroke-width="1.3" stroke-linecap="butt"/>
<line x1="1128" y1="225.4" x2="1128" y2="255.8" stroke="#231f20" stroke-width="1.3" stroke-linecap="butt"/>
<line x1="1132.8" y1="225.4" x2="1132.8" y2="255.8" stroke="#231f20" stroke-width="1.3" stroke-linecap="butt"/>
<path d="M1134.7,232.6 L1139.7,238.6 L1139.7,242.6 L1134.7,248.6" fill="#666" stroke="#231f20" stroke-width="1.4" />
<path d="M1025.2,123.8 L1025.2,87.5 Q1025.2,77.5 1035.2,77.5 L1104.8,77.5 Q1114.8,77.5 1114.8,87.5 L1114.8,131.8 Q1114.8,135.8 1110.8,138.8" fill="none" stroke="#231f20" stroke-width="1.7" />
<path d="M1025.2,123.8 Q1025.2,135.8 1037.2,135.8 L1104.8,135.8" fill="none" stroke="#231f20" stroke-width="1.7" />
<line x1="1053" y1="77.5" x2="1053" y2="135.8" stroke="#231f20" stroke-width="1.5" stroke-linecap="butt"/>
<line x1="1104.4" y1="77.5" x2="1104.4" y2="135.8" stroke="#231f20" stroke-width="1.5" stroke-linecap="butt"/>
<rect x="1064.5" y="92" width="27.5" height="28.6" rx="3.5" fill="none" stroke="#231f20" stroke-width="1.5"/>
<rect x="1021.2" y="135.8" width="91.6" height="3" rx="0" fill="#231f20" stroke="#231f20" stroke-width="1.5"/>
<rect x="1057" y="132.8" width="47.4" height="6" rx="0" fill="#fff" stroke="#231f20" stroke-width="1.4"/>
<rect x="1021.2" y="125.8" width="6" height="8" rx="1.5" fill="#fff" stroke="#231f20" stroke-width="1.3"/>
<rect x="1018.7" y="133.8" width="11" height="9" rx="2.5" fill="#fff" stroke="#231f20" stroke-width="1.5"/>
<rect x="1020.2" y="142.8" width="8" height="7.7" rx="1" fill="#fff" stroke="#231f20" stroke-width="1.4"/>
<line x1="1020.2" y1="138.8" x2="1028.2" y2="138.8" stroke="#231f20" stroke-width="1" stroke-linecap="butt"/>
<rect x="1107.8" y="125.8" width="6" height="8" rx="1.5" fill="#fff" stroke="#231f20" stroke-width="1.3"/>
<rect x="1105.3" y="133.8" width="11" height="9" rx="2.5" fill="#fff" stroke="#231f20" stroke-width="1.5"/>
<rect x="1106.8" y="142.8" width="8" height="7.7" rx="1" fill="#fff" stroke="#231f20" stroke-width="1.4"/>
<line x1="1106.8" y1="138.8" x2="1114.8" y2="138.8" stroke="#231f20" stroke-width="1" stroke-linecap="butt"/>
<rect x="1059.5" y="127.8" width="5" height="5" rx="2" fill="#fff" stroke="#231f20" stroke-width="1.3"/>
<rect x="1058.5" y="138.8" width="7" height="3" rx="0" fill="#231f20" stroke="#231f20" stroke-width="1.2"/>
<rect x="1095.9" y="127.8" width="5" height="5" rx="2" fill="#fff" stroke="#231f20" stroke-width="1.3"/>
<rect x="1094.9" y="138.8" width="7" height="3" rx="0" fill="#231f20" stroke="#231f20" stroke-width="1.2"/>
<path d="M1117,151.5 L1117,73.1 Q1117,71.6 1118.5,71.6 L1151.5,71.6 Q1153,71.6 1153,73.1 L1153,151.5" fill="none" stroke="#231f20" stroke-width="1.5" />
<rect x="1114.8" y="94" width="4.7" height="25.5" rx="0" fill="#fff" stroke="#231f20" stroke-width="1.4"/>
<line x1="1116.3" y1="95" x2="1116.3" y2="118.5" stroke="#231f20" stroke-width="2.2" stroke-linecap="butt"/>
<rect x="1119.5" y="91" width="15.2" height="31.5" rx="0" fill="#fff" stroke="#231f20" stroke-width="1.6"/>
<line x1="1124.52" y1="91" x2="1124.52" y2="122.5" stroke="#231f20" stroke-width="2.0" stroke-linecap="butt"/>
<line x1="1129.53" y1="91" x2="1129.53" y2="122.5" stroke="#231f20" stroke-width="2.0" stroke-linecap="butt"/>
<line x1="1120.5" y1="91" x2="1120.5" y2="122.5" stroke="#231f20" stroke-width="2.2" stroke-linecap="butt"/>
<path d="M1134.7,96 L1136.7,102.75 L1139.7,104.75 L1139.7,108.75 L1136.7,110.75 L1134.7,117.5" fill="#555" stroke="#231f20" stroke-width="1.4" />
<line x1="983.8" y1="240.6" x2="1175.6" y2="240.6" stroke="#444" stroke-width="1.1" stroke-dasharray="40 0" stroke-linecap="butt"/>
<line x1="1203.7" y1="158.4" x2="1203.7" y2="320.6" stroke="#2b2b2b" stroke-width="1.3" stroke-linecap="butt"/>
<polygon points="1203.7,154.4 1207,162.9 1200.4,162.9" fill="#231f20" stroke="#231f20" stroke-width="0.5" stroke-linejoin="miter"/>
<polygon points="1203.7,324.6 1200.4,316.1 1207,316.1" fill="#231f20" stroke="#231f20" stroke-width="0.5" stroke-linejoin="miter"/>
<line x1="1227.8" y1="154" x2="1227.8" y2="326.2" stroke="#2b2b2b" stroke-width="1.3" stroke-linecap="butt"/>
<polygon points="1227.8,150 1231.1,158.5 1224.5,158.5" fill="#231f20" stroke="#231f20" stroke-width="0.5" stroke-linejoin="miter"/>
<polygon points="1227.8,330.2 1224.5,321.7 1231.1,321.7" fill="#231f20" stroke="#231f20" stroke-width="0.5" stroke-linejoin="miter"/>
<line x1="1252.8" y1="149.3" x2="1252.8" y2="331.4" stroke="#2b2b2b" stroke-width="1.3" stroke-linecap="butt"/>
<polygon points="1252.8,145.3 1256.1,153.8 1249.5,153.8" fill="#231f20" stroke="#231f20" stroke-width="0.5" stroke-linejoin="miter"/>
<polygon points="1252.8,335.4 1249.5,326.9 1256.1,326.9" fill="#231f20" stroke="#231f20" stroke-width="0.5" stroke-linejoin="miter"/>
<line x1="1172.5" y1="154.4" x2="1206.7" y2="154.4" stroke="#2b2b2b" stroke-width="1.3" stroke-linecap="butt"/>
<line x1="1172.5" y1="324.6" x2="1206.7" y2="324.6" stroke="#2b2b2b" stroke-width="1.3" stroke-linecap="butt"/>
<line x1="1182.5" y1="150" x2="1230.8" y2="150" stroke="#2b2b2b" stroke-width="1.3" stroke-linecap="butt"/>
<line x1="1182.5" y1="330.2" x2="1230.8" y2="330.2" stroke="#2b2b2b" stroke-width="1.3" stroke-linecap="butt"/>
<line x1="1172.5" y1="145.3" x2="1255.8" y2="145.3" stroke="#2b2b2b" stroke-width="1.3" stroke-linecap="butt"/>
<line x1="1172.5" y1="335.4" x2="1255.8" y2="335.4" stroke="#2b2b2b" stroke-width="1.3" stroke-linecap="butt"/>
<text transform="translate(1196.92,240) rotate(-90)" font-size="22" text-anchor="middle" fill="#231f20" textLength="28.6" lengthAdjust="spacingAndGlyphs">Ø1</text>
<text transform="translate(1224.42,240) rotate(-90)" font-size="22" text-anchor="middle" fill="#231f20" textLength="28.6" lengthAdjust="spacingAndGlyphs">Ø2</text>
<text transform="translate(1251.42,240) rotate(-90)" font-size="22" text-anchor="middle" fill="#231f20" textLength="28.6" lengthAdjust="spacingAndGlyphs">Ø3</text>
<line x1="1007.7" y1="375.8" x2="1154.5" y2="375.8" stroke="#2b2b2b" stroke-width="1.3" stroke-linecap="butt"/>
<polygon points="1003.7,375.8 1012.2,372.5 1012.2,379.1" fill="#231f20" stroke="#231f20" stroke-width="0.5" stroke-linejoin="miter"/>
<polygon points="1158.5,375.8 1150,379.1 1150,372.5" fill="#231f20" stroke="#231f20" stroke-width="0.5" stroke-linejoin="miter"/>
<line x1="1000" y1="403.7" x2="1162" y2="403.7" stroke="#2b2b2b" stroke-width="1.3" stroke-linecap="butt"/>
<polygon points="996,403.7 1004.5,400.4 1004.5,407" fill="#231f20" stroke="#231f20" stroke-width="0.5" stroke-linejoin="miter"/>
<polygon points="1166,403.7 1157.5,407 1157.5,400.4" fill="#231f20" stroke="#231f20" stroke-width="0.5" stroke-linejoin="miter"/>
<line x1="1003.7" y1="342.4" x2="1003.7" y2="378.8" stroke="#2b2b2b" stroke-width="1.3" stroke-linecap="butt"/>
<line x1="1158.5" y1="342.4" x2="1158.5" y2="378.8" stroke="#2b2b2b" stroke-width="1.3" stroke-linecap="butt"/>
<line x1="996" y1="341.4" x2="996" y2="407.7" stroke="#2b2b2b" stroke-width="1.3" stroke-linecap="butt"/>
<line x1="1166" y1="341.4" x2="1166" y2="407.7" stroke="#2b2b2b" stroke-width="1.3" stroke-linecap="butt"/>
<text x="1078.85" y="371.8" font-size="21.5" text-anchor="middle" fill="#231f20" textLength="23" lengthAdjust="spacingAndGlyphs">L2</text>
<text x="1078.85" y="399.7" font-size="21.5" text-anchor="middle" fill="#231f20" textLength="23" lengthAdjust="spacingAndGlyphs">L1</text>
<text x="1182" y="367.3" font-size="21.5" text-anchor="start" fill="#231f20" textLength="45.8" lengthAdjust="spacingAndGlyphs">n-Ød2</text>
<polyline points="1159.4,339.7 1178.4,371 1245.8,371" fill="none" stroke="#2b2b2b" stroke-width="1.3" stroke-linejoin="miter"/>
<line x1="1122.8" y1="129.5" x2="1122.8" y2="149" stroke="#231f20" stroke-width="1.3" stroke-linecap="butt"/>
<line x1="1122.8" y1="165" x2="1122.8" y2="183.6" stroke="#231f20" stroke-width="1.3" stroke-linecap="butt"/>
<line x1="1122.8" y1="202" x2="1122.8" y2="219.2" stroke="#231f20" stroke-width="1.3" stroke-linecap="butt"/>
<line x1="1128" y1="129.5" x2="1128" y2="149" stroke="#231f20" stroke-width="1.3" stroke-linecap="butt"/>
<line x1="1128" y1="165" x2="1128" y2="183.6" stroke="#231f20" stroke-width="1.3" stroke-linecap="butt"/>
<line x1="1128" y1="202" x2="1128" y2="219.2" stroke="#231f20" stroke-width="1.3" stroke-linecap="butt"/>
<line x1="1132.8" y1="129.5" x2="1132.8" y2="149" stroke="#231f20" stroke-width="1.3" stroke-linecap="butt"/>
<line x1="1132.8" y1="165" x2="1132.8" y2="183.6" stroke="#231f20" stroke-width="1.3" stroke-linecap="butt"/>
<line x1="1132.8" y1="202" x2="1132.8" y2="219.2" stroke="#231f20" stroke-width="1.3" stroke-linecap="butt"/>
<polygon points="1322.3,339.2 1333.7,326 1477,326 1488.4,339.2" fill="none" stroke="#231f20" stroke-width="1.7" stroke-linejoin="miter"/>
<line x1="1322.3" y1="339.2" x2="1488.4" y2="339.2" stroke="#231f20" stroke-width="2.2" stroke-linecap="butt"/>
<circle cx="1408.8" cy="235.3" r="97" fill="#fff" stroke="#231f20" stroke-width="1.7"/>
<path d="M1392.62,143.52 A93.2,93.2 0 0 0 1328.09,188.7" fill="none" stroke="#231f20" stroke-width="1.3" />
<path d="M1321.22,203.42 A93.2,93.2 0 0 0 1315.6,235.3" fill="none" stroke="#231f20" stroke-width="1.3" />
<path d="M1316.51,248.27 A93.2,93.2 0 0 0 1321.22,267.18" fill="none" stroke="#231f20" stroke-width="1.3" />
<path d="M1500.58,251.48 A93.2,93.2 0 0 0 1501.65,227.18" fill="none" stroke="#231f20" stroke-width="1.3" />
<path d="M1348.89,306.7 A93.2,93.2 0 0 0 1369.41,319.77" fill="none" stroke="#231f20" stroke-width="1.3" />
<circle cx="1408.8" cy="235.3" r="87.5" fill="none" stroke="#231f20" stroke-width="1.7"/>
<circle cx="1492.89" cy="199.61" r="1.8" fill="#666" stroke="#231f20" stroke-width="1.3"/>
<circle cx="1324.71" cy="199.61" r="1.8" fill="#666" stroke="#231f20" stroke-width="1.3"/>
<circle cx="1324.71" cy="270.99" r="1.8" fill="#666" stroke="#231f20" stroke-width="1.3"/>
<circle cx="1492.89" cy="270.99" r="1.8" fill="#666" stroke="#231f20" stroke-width="1.3"/>
<line x1="1421.77" y1="143.01" x2="1421.05" y2="148.16" stroke="#231f20" stroke-width="1.5" stroke-linecap="butt"/>
<line x1="1455.4" y1="154.59" x2="1452.8" y2="159.09" stroke="#231f20" stroke-width="1.5" stroke-linecap="butt"/>
<line x1="1384.5" y1="151.24" x2="1384.5" y2="162" stroke="#231f20" stroke-width="1.8" stroke-linecap="butt"/>
<line x1="1433" y1="151.21" x2="1433" y2="162" stroke="#231f20" stroke-width="1.8" stroke-linecap="butt"/>
<path d="M1433.07,250.47 L1490.8,247.3 A82.87,82.87 0 0 0 1490.8,223.3 L1436.4,220.31 L1463.52,173.06 A82.87,82.87 0 0 0 1443.4,159.99 L1410.38,205.21 L1382.26,156.79 A82.87,82.87 0 0 0 1360.88,167.69 L1384.09,220.16 L1326.8,223.3 A82.87,82.87 0 0 0 1326.8,247.3 L1382.7,250.37 L1357.41,300.31 A82.87,82.87 0 0 0 1378.19,312.31 L1407.69,267.14 L1433.96,314.26 A82.87,82.87 0 0 0 1455.53,303.74 Z" fill="#fff" stroke="#231f20" stroke-width="1.7" />
<line x1="1326.8" y1="223" x2="1379.1" y2="220.13" stroke="#231f20" stroke-width="2.6" stroke-linecap="butt"/>
<circle cx="1408.8" cy="235.3" r="20.5" fill="#fff" stroke="#231f20" stroke-width="1.7"/>
<circle cx="1408.8" cy="235.3" r="14" fill="none" stroke="#231f20" stroke-width="1.4"/>
<circle cx="1408.8" cy="235.3" r="11" fill="none" stroke="#231f20" stroke-width="1.4"/>
<circle cx="1408.8" cy="235.3" r="8" fill="none" stroke="#231f20" stroke-width="1.4"/>
<circle cx="1408.8" cy="235.3" r="3" fill="none" stroke="#231f20" stroke-width="1.4"/>
<circle cx="1408.8" cy="235.3" r="3" fill="#666" stroke="#231f20" stroke-width="1.4"/>
<line x1="1298.5" y1="235.3" x2="1548" y2="235.3" stroke="#333" stroke-width="1.2" stroke-dasharray="6 4" stroke-linecap="butt"/>
<line x1="1408.8" y1="64" x2="1408.8" y2="339" stroke="#333" stroke-width="1.2" stroke-dasharray="6 4" stroke-linecap="butt"/>
<rect x="1381.38" y="117.5" width="9.62" height="16" rx="1" fill="#fff" stroke="#231f20" stroke-width="1.4"/>
<line x1="1383.78" y1="118.5" x2="1383.78" y2="132.5" stroke="#231f20" stroke-width="1.3" stroke-linecap="butt"/>
<line x1="1386.19" y1="118.5" x2="1386.19" y2="132.5" stroke="#231f20" stroke-width="1.3" stroke-linecap="butt"/>
<line x1="1388.59" y1="118.5" x2="1388.59" y2="132.5" stroke="#231f20" stroke-width="1.3" stroke-linecap="butt"/>
<line x1="1381.88" y1="120.7" x2="1390.5" y2="120.7" stroke="#231f20" stroke-width="1.2" stroke-linecap="butt"/>
<line x1="1381.88" y1="123.9" x2="1390.5" y2="123.9" stroke="#231f20" stroke-width="1.2" stroke-linecap="butt"/>
<line x1="1381.88" y1="127.1" x2="1390.5" y2="127.1" stroke="#231f20" stroke-width="1.2" stroke-linecap="butt"/>
<line x1="1381.88" y1="130.3" x2="1390.5" y2="130.3" stroke="#231f20" stroke-width="1.2" stroke-linecap="butt"/>
<rect x="1374.3" y="116.5" width="6.28" height="9" rx="1.2" fill="#fff" stroke="#231f20" stroke-width="1.6"/>
<rect x="1372.3" y="125.5" width="10.28" height="7" rx="1.5" fill="#fff" stroke="#231f20" stroke-width="1.6"/>
<rect x="1374" y="132.5" width="6.88" height="12.01" rx="0" fill="#fff" stroke="#231f20" stroke-width="1.6"/>
<line x1="1372.5" y1="129" x2="1382.38" y2="129" stroke="#231f20" stroke-width="1.0" stroke-linecap="butt"/>
<rect x="1428" y="117.5" width="10.72" height="16" rx="1" fill="#fff" stroke="#231f20" stroke-width="1.4"/>
<line x1="1430.68" y1="118.5" x2="1430.68" y2="132.5" stroke="#231f20" stroke-width="1.3" stroke-linecap="butt"/>
<line x1="1433.36" y1="118.5" x2="1433.36" y2="132.5" stroke="#231f20" stroke-width="1.3" stroke-linecap="butt"/>
<line x1="1436.04" y1="118.5" x2="1436.04" y2="132.5" stroke="#231f20" stroke-width="1.3" stroke-linecap="butt"/>
<line x1="1428.5" y1="120.7" x2="1438.22" y2="120.7" stroke="#231f20" stroke-width="1.2" stroke-linecap="butt"/>
<line x1="1428.5" y1="123.9" x2="1438.22" y2="123.9" stroke="#231f20" stroke-width="1.2" stroke-linecap="butt"/>
<line x1="1428.5" y1="127.1" x2="1438.22" y2="127.1" stroke="#231f20" stroke-width="1.2" stroke-linecap="butt"/>
<line x1="1428.5" y1="130.3" x2="1438.22" y2="130.3" stroke="#231f20" stroke-width="1.2" stroke-linecap="butt"/>
<rect x="1439.52" y="116.5" width="6.28" height="9" rx="1.2" fill="#fff" stroke="#231f20" stroke-width="1.6"/>
<rect x="1437.52" y="125.5" width="10.28" height="7" rx="1.5" fill="#fff" stroke="#231f20" stroke-width="1.6"/>
<rect x="1439.22" y="132.5" width="6.88" height="12.9" rx="0" fill="#fff" stroke="#231f20" stroke-width="1.6"/>
<line x1="1437.72" y1="129" x2="1447.6" y2="129" stroke="#231f20" stroke-width="1.0" stroke-linecap="butt"/>
<line x1="1373.5" y1="128.5" x2="1446.6" y2="128.5" stroke="#231f20" stroke-width="2.6" stroke-linecap="butt"/>
<rect x="1437" y="83" width="12.5" height="29.7" rx="2.5" fill="#fff" stroke="#231f20" stroke-width="1.5"/>
<polyline points="1440,87 1446.5,106.7 1440,92 1446.5,109.7" fill="none" stroke="#231f20" stroke-width="1.2" stroke-linejoin="miter"/>
<circle cx="1408.7" cy="97.8" r="30" fill="#fff" stroke="#231f20" stroke-width="1.7"/>
<circle cx="1408.7" cy="97.8" r="27" fill="none" stroke="#231f20" stroke-width="1.4"/>
<circle cx="1408.7" cy="97.8" r="7.8" fill="none" stroke="#231f20" stroke-width="2.2"/>
<circle cx="1408.7" cy="97.8" r="5.6" fill="none" stroke="#231f20" stroke-width="1.0"/>
<line x1="1417.7" y1="97.8" x2="1428.8" y2="97.8" stroke="#231f20" stroke-width="3.4" stroke-linecap="round"/>
<line x1="1417.7" y1="97.8" x2="1428.8" y2="97.8" stroke="#fff" stroke-width="1.3" stroke-linecap="round"/>
<line x1="1416.49" y1="102.3" x2="1426.11" y2="107.85" stroke="#231f20" stroke-width="3.4" stroke-linecap="round"/>
<line x1="1416.49" y1="102.3" x2="1426.11" y2="107.85" stroke="#fff" stroke-width="1.3" stroke-linecap="round"/>
<line x1="1413.2" y1="105.59" x2="1418.75" y2="115.21" stroke="#231f20" stroke-width="3.4" stroke-linecap="round"/>
<line x1="1413.2" y1="105.59" x2="1418.75" y2="115.21" stroke="#fff" stroke-width="1.3" stroke-linecap="round"/>
<line x1="1408.7" y1="106.8" x2="1408.7" y2="117.9" stroke="#231f20" stroke-width="3.4" stroke-linecap="round"/>
<line x1="1408.7" y1="106.8" x2="1408.7" y2="117.9" stroke="#fff" stroke-width="1.3" stroke-linecap="round"/>
<line x1="1404.2" y1="105.59" x2="1398.65" y2="115.21" stroke="#231f20" stroke-width="3.4" stroke-linecap="round"/>
<line x1="1404.2" y1="105.59" x2="1398.65" y2="115.21" stroke="#fff" stroke-width="1.3" stroke-linecap="round"/>
<line x1="1400.91" y1="102.3" x2="1391.29" y2="107.85" stroke="#231f20" stroke-width="3.4" stroke-linecap="round"/>
<line x1="1400.91" y1="102.3" x2="1391.29" y2="107.85" stroke="#fff" stroke-width="1.3" stroke-linecap="round"/>
<line x1="1399.7" y1="97.8" x2="1388.6" y2="97.8" stroke="#231f20" stroke-width="3.4" stroke-linecap="round"/>
<line x1="1399.7" y1="97.8" x2="1388.6" y2="97.8" stroke="#fff" stroke-width="1.3" stroke-linecap="round"/>
<line x1="1400.91" y1="93.3" x2="1391.29" y2="87.75" stroke="#231f20" stroke-width="3.4" stroke-linecap="round"/>
<line x1="1400.91" y1="93.3" x2="1391.29" y2="87.75" stroke="#fff" stroke-width="1.3" stroke-linecap="round"/>
<line x1="1404.2" y1="90.01" x2="1398.65" y2="80.39" stroke="#231f20" stroke-width="3.4" stroke-linecap="round"/>
<line x1="1404.2" y1="90.01" x2="1398.65" y2="80.39" stroke="#fff" stroke-width="1.3" stroke-linecap="round"/>
<line x1="1408.7" y1="88.8" x2="1408.7" y2="77.7" stroke="#231f20" stroke-width="3.4" stroke-linecap="round"/>
<line x1="1408.7" y1="88.8" x2="1408.7" y2="77.7" stroke="#fff" stroke-width="1.3" stroke-linecap="round"/>
<line x1="1413.2" y1="90.01" x2="1418.75" y2="80.39" stroke="#231f20" stroke-width="3.4" stroke-linecap="round"/>
<line x1="1413.2" y1="90.01" x2="1418.75" y2="80.39" stroke="#fff" stroke-width="1.3" stroke-linecap="round"/>
<line x1="1416.49" y1="93.3" x2="1426.11" y2="87.75" stroke="#231f20" stroke-width="3.4" stroke-linecap="round"/>
<line x1="1416.49" y1="93.3" x2="1426.11" y2="87.75" stroke="#fff" stroke-width="1.3" stroke-linecap="round"/>
<circle cx="1408.7" cy="97.8" r="7.8" fill="#fff" stroke="#231f20" stroke-width="2.0"/>
<circle cx="1408.7" cy="97.8" r="5.6" fill="none" stroke="#231f20" stroke-width="1.0"/>
<line x1="1408.8" y1="64" x2="1408.8" y2="127.8" stroke="#444" stroke-width="1.0" stroke-dasharray="6 4" stroke-linecap="butt"/>
<line x1="1562.8" y1="65.2" x2="1562.8" y2="95.2" stroke="#2b2b2b" stroke-width="1.3" stroke-linecap="butt"/>
<line x1="1562.8" y1="305" x2="1562.8" y2="335.2" stroke="#2b2b2b" stroke-width="1.3" stroke-linecap="butt"/>
<polygon points="1562.8,61.2 1566.1,69.7 1559.5,69.7" fill="#231f20" stroke="#231f20" stroke-width="0.5" stroke-linejoin="miter"/>
<polygon points="1562.8,339.2 1559.5,330.7 1566.1,330.7" fill="#231f20" stroke="#231f20" stroke-width="0.5" stroke-linejoin="miter"/>
<line x1="1535.2" y1="239.3" x2="1535.2" y2="297.7" stroke="#2b2b2b" stroke-width="1.3" stroke-linecap="butt"/>
<line x1="1526" y1="301.4" x2="1526" y2="335.2" stroke="#2b2b2b" stroke-width="1.3" stroke-linecap="butt"/>
<polygon points="1535.2,235.3 1538.5,243.8 1531.9,243.8" fill="#231f20" stroke="#231f20" stroke-width="0.5" stroke-linejoin="miter"/>
<polygon points="1526,339.2 1522.7,330.7 1529.3,330.7" fill="#231f20" stroke="#231f20" stroke-width="0.5" stroke-linejoin="miter"/>
<line x1="1417" y1="61.2" x2="1565.8" y2="61.2" stroke="#2b2b2b" stroke-width="1.3" stroke-linecap="butt"/>
<line x1="1496" y1="339.2" x2="1565.8" y2="339.2" stroke="#2b2b2b" stroke-width="1.3" stroke-linecap="butt"/>
<line x1="1529.2" y1="235.3" x2="1539.2" y2="235.3" stroke="#2b2b2b" stroke-width="1.3" stroke-linecap="butt"/>
<text transform="translate(1529.8,283) rotate(-90)" font-size="21.5" text-anchor="middle" fill="#231f20" textLength="26" lengthAdjust="spacingAndGlyphs">H1</text>
<text transform="translate(1566.5,203.8) rotate(-90)" font-size="21.5" text-anchor="middle" fill="#231f20" textLength="26" lengthAdjust="spacingAndGlyphs">H2</text>
<line x1="1333.9" y1="368.7" x2="1475.9" y2="368.7" stroke="#2b2b2b" stroke-width="1.3" stroke-linecap="butt"/>
<polygon points="1329.9,368.7 1338.4,365.4 1338.4,372" fill="#231f20" stroke="#231f20" stroke-width="0.5" stroke-linejoin="miter"/>
<polygon points="1479.9,368.7 1471.4,372 1471.4,365.4" fill="#231f20" stroke="#231f20" stroke-width="0.5" stroke-linejoin="miter"/>
<line x1="1325.9" y1="396.6" x2="1484.4" y2="396.6" stroke="#2b2b2b" stroke-width="1.3" stroke-linecap="butt"/>
<polygon points="1321.9,396.6 1330.4,393.3 1330.4,399.9" fill="#231f20" stroke="#231f20" stroke-width="0.5" stroke-linejoin="miter"/>
<polygon points="1488.4,396.6 1479.9,399.9 1479.9,393.3" fill="#231f20" stroke="#231f20" stroke-width="0.5" stroke-linejoin="miter"/>
<line x1="1329.9" y1="331.6" x2="1329.9" y2="371.7" stroke="#2b2b2b" stroke-width="1.3" stroke-dasharray="5 3" stroke-linecap="butt"/>
<line x1="1479.9" y1="331.6" x2="1479.9" y2="371.7" stroke="#2b2b2b" stroke-width="1.3" stroke-dasharray="5 3" stroke-linecap="butt"/>
<line x1="1321.9" y1="339.6" x2="1321.9" y2="399.6" stroke="#2b2b2b" stroke-width="1.3" stroke-linecap="butt"/>
<line x1="1488.4" y1="339.6" x2="1488.4" y2="399.6" stroke="#2b2b2b" stroke-width="1.3" stroke-linecap="butt"/>
<text x="1411" y="365.2" font-size="21.5" text-anchor="middle" fill="#231f20" textLength="23" lengthAdjust="spacingAndGlyphs">L4</text>
<text x="1411" y="393.1" font-size="21.5" text-anchor="middle" fill="#231f20" textLength="23" lengthAdjust="spacingAndGlyphs">L3</text>
<text x="1471.3" y="145.9" font-size="21.5" text-anchor="start" fill="#231f20" textLength="63.7" lengthAdjust="spacingAndGlyphs">n–Ød1</text>
<polyline points="1456,154.4 1456,149.7 1555.8,149.7" fill="none" stroke="#2b2b2b" stroke-width="1.3" stroke-linejoin="miter"/>
<text x="1222" y="452" font-size="24" text-anchor="start" fill="#2a2a2a" textLength="117" lengthAdjust="spacingAndGlyphs">T30 7C ~ 8C</text>
<text x="561" y="454.4" font-size="25.5" text-anchor="start" fill="#231f20" textLength="161.8" lengthAdjust="spacingAndGlyphs">Airflow Direction</text>
<line x1="561" y1="468.4" x2="717" y2="468.4" stroke="#231f20" stroke-width="1.3" stroke-linecap="butt"/>
<polygon points="547,468.4 562,461.4 562,475.4" fill="#231f20" stroke="#231f20" stroke-width="0.5" stroke-linejoin="miter"/>
<line x1="507.3" y1="577.3" x2="522.3" y2="577.3" stroke="#231f20" stroke-width="1.4" stroke-linecap="butt"/>
<line x1="522.3" y1="577.3" x2="643.9" y2="577.3" stroke="#231f20" stroke-width="2.8" stroke-linecap="butt"/>
<line x1="657.9" y1="577.3" x2="679.4" y2="577.3" stroke="#231f20" stroke-width="2.8" stroke-linecap="butt"/>
<line x1="679.4" y1="577.3" x2="696" y2="577.3" stroke="#231f20" stroke-width="1.4" stroke-linecap="butt"/>
<line x1="522.3" y1="569.3" x2="522.3" y2="578.3" stroke="#231f20" stroke-width="2.2" stroke-linecap="butt"/>
<line x1="679.4" y1="569.3" x2="679.4" y2="578.3" stroke="#231f20" stroke-width="2.2" stroke-linecap="butt"/>
<line x1="499.3" y1="573.8" x2="515.3" y2="573.8" stroke="#231f20" stroke-width="1.3" stroke-linecap="butt"/>
<line x1="508.3" y1="567.8" x2="508.3" y2="577.3" stroke="#231f20" stroke-width="1.3" stroke-linecap="butt"/>
<line x1="688" y1="573.8" x2="706" y2="573.8" stroke="#231f20" stroke-width="1.3" stroke-linecap="butt"/>
<line x1="695" y1="567.8" x2="695" y2="577.3" stroke="#231f20" stroke-width="1.3" stroke-linecap="butt"/>
<line x1="508.3" y1="577.3" x2="508.3" y2="782" stroke="#231f20" stroke-width="1.7" stroke-linecap="butt"/>
<line x1="695" y1="577.3" x2="695" y2="782" stroke="#231f20" stroke-width="1.7" stroke-linecap="butt"/>
<polyline points="508.3,716 519.8,716 521.8,718 521.8,782 508.3,782" fill="none" stroke="#231f20" stroke-width="1.7" stroke-linejoin="miter"/>
<polyline points="695,716 683.5,716 681.5,718 681.5,782 695,782" fill="none" stroke="#231f20" stroke-width="1.7" stroke-linejoin="miter"/>
<line x1="521.8" y1="764.8" x2="681.5" y2="764.8" stroke="#231f20" stroke-width="2.6" stroke-linecap="butt"/>
<line x1="503.3" y1="770.3" x2="512.3" y2="770.3" stroke="#231f20" stroke-width="1.3" stroke-linecap="butt"/>
<line x1="691" y1="770.3" x2="704" y2="770.3" stroke="#231f20" stroke-width="1.3" stroke-linecap="butt"/>
<line x1="515.3" y1="774.3" x2="515.3" y2="788" stroke="#231f20" stroke-width="1.3" stroke-linecap="butt"/>
<line x1="688" y1="774.3" x2="688" y2="786" stroke="#231f20" stroke-width="1.3" stroke-linecap="butt"/>
<polyline points="524.4,577.3 524.4,665.8 543.8,665.8" fill="none" stroke="#231f20" stroke-width="1.7" stroke-linejoin="miter"/>
<path d="M546,643.2 L549.2,586.5 Q549.2,583.5 553.2,583 Q559.4,581 566.6,582.5 Q569.6,582.5 569.6,585.5 L572,643.2" fill="none" stroke="#231f20" stroke-width="1.7" />
<path d="M546,699.4 L549.2,756.5 Q549.2,760 553.2,760.5 L566.6,761 Q569.6,760.5 569.6,757.5 L572,699.4" fill="none" stroke="#231f20" stroke-width="1.7" />
<rect x="542.7" y="643.2" width="31.3" height="56.2" rx="2" fill="#fff" stroke="#231f20" stroke-width="1.7"/>
<line x1="544.7" y1="644.2" x2="574" y2="644.2" stroke="#231f20" stroke-width="2.6" stroke-linecap="butt"/>
<line x1="544.7" y1="698.4" x2="574" y2="698.4" stroke="#231f20" stroke-width="2.6" stroke-linecap="butt"/>
<path d="M544.27,647.13 C543.33,651.63 546.46,652.75 550.84,655 C554.28,656.69 554.91,660.06 554.91,662.87 L554.91,679.73 C554.91,682.54 554.28,685.91 550.84,687.6 C546.46,689.85 543.33,690.97 544.27,695.47" fill="none" stroke="#231f20" stroke-width="1.7" />
<line x1="543.3" y1="646.2" x2="543.3" y2="696.4" stroke="#231f20" stroke-width="2.4" stroke-linecap="butt"/>
<line x1="554.91" y1="662.1" x2="574" y2="662.1" stroke="#231f20" stroke-width="1.5" stroke-linecap="butt"/>
<line x1="554.91" y1="680.1" x2="574" y2="680.1" stroke="#231f20" stroke-width="1.5" stroke-linecap="butt"/>
<line x1="554.91" y1="666.1" x2="644.5" y2="666.1" stroke="#231f20" stroke-width="1.5" stroke-linecap="butt"/>
<line x1="554.91" y1="676.1" x2="644.5" y2="676.1" stroke="#231f20" stroke-width="1.5" stroke-linecap="butt"/>
<polygon points="545.83,671.1 552.09,661.55 558.35,671.1 552.09,680.65" fill="#fff" stroke="#231f20" stroke-width="1.6" stroke-linejoin="miter"/>
<line x1="552.09" y1="661.55" x2="552.09" y2="680.65" stroke="#231f20" stroke-width="1.2" stroke-linecap="butt"/>
<line x1="548.96" y1="666.32" x2="548.96" y2="675.88" stroke="#231f20" stroke-width="1.0" stroke-linecap="butt"/>
<line x1="555.22" y1="666.32" x2="555.22" y2="675.88" stroke="#231f20" stroke-width="1.0" stroke-linecap="butt"/>
<line x1="585.8" y1="577.3" x2="585.8" y2="656" stroke="#231f20" stroke-width="1.7" stroke-linecap="butt"/>
<line x1="586.8" y1="657" x2="637.4" y2="657" stroke="#231f20" stroke-width="2.6" stroke-linecap="butt"/>
<rect x="588.3" y="654" width="9.9" height="3" rx="1.5" fill="none" stroke="#231f20" stroke-width="1.3"/>
<rect x="586.8" y="658.5" width="12.9" height="10.6" rx="0" fill="#fff" stroke="#231f20" stroke-width="1.4"/>
<path d="M587.8,669.1 L589.64,685.4 L596.86,685.4 L598.7,669.1" fill="#fff" stroke="#231f20" stroke-width="1.5" />
<circle cx="593.25" cy="671.1" r="2.58" fill="none" stroke="#231f20" stroke-width="1.2"/>
<line x1="590.67" y1="671.1" x2="595.83" y2="671.1" stroke="#231f20" stroke-width="1.0" stroke-linecap="butt"/>
<line x1="593.25" y1="668.52" x2="593.25" y2="673.68" stroke="#231f20" stroke-width="1.0" stroke-linecap="butt"/>
<rect x="626" y="654" width="9.9" height="3" rx="1.5" fill="none" stroke="#231f20" stroke-width="1.3"/>
<rect x="624.5" y="658.5" width="12.9" height="10.6" rx="0" fill="#fff" stroke="#231f20" stroke-width="1.4"/>
<path d="M625.5,669.1 L627.34,685.4 L634.56,685.4 L636.4,669.1" fill="#fff" stroke="#231f20" stroke-width="1.5" />
<circle cx="630.95" cy="671.1" r="2.58" fill="none" stroke="#231f20" stroke-width="1.2"/>
<line x1="628.37" y1="671.1" x2="633.53" y2="671.1" stroke="#231f20" stroke-width="1.0" stroke-linecap="butt"/>
<line x1="630.95" y1="668.52" x2="630.95" y2="673.68" stroke="#231f20" stroke-width="1.0" stroke-linecap="butt"/>
<polyline points="638.5,577.3 638.5,704.5 673,704.5" fill="none" stroke="#231f20" stroke-width="1.7" stroke-linejoin="miter"/>
<line x1="673" y1="577.3" x2="673" y2="705.5" stroke="#231f20" stroke-width="1.5" stroke-linecap="butt"/>
<line x1="673" y1="577.3" x2="673" y2="705.5" stroke="#231f20" stroke-width="2.4" stroke-linecap="butt"/>
<polyline points="678.3,577.3 678.3,665.8 673,665.8" fill="none" stroke="#231f20" stroke-width="1.7" stroke-linejoin="miter"/>
<rect x="670" y="657.3" width="6" height="3" rx="1" fill="#231f20" stroke="#231f20" stroke-width="0.8"/>
<rect x="670" y="697.5" width="6" height="3" rx="1" fill="#231f20" stroke="#231f20" stroke-width="0.8"/>
<rect x="644.5" y="656" width="17.5" height="32.4" rx="0" fill="#fff" stroke="#231f20" stroke-width="0"/>
<line x1="645.7" y1="658" x2="645.7" y2="688.4" stroke="#231f20" stroke-width="2.4" stroke-linecap="butt"/>
<line x1="661" y1="658" x2="661" y2="688.4" stroke="#231f20" stroke-width="1.8" stroke-linecap="butt"/>
<line x1="644.5" y1="688.4" x2="662" y2="688.4" stroke="#231f20" stroke-width="1.6" stroke-linecap="butt"/>
<line x1="646.7" y1="656" x2="646.7" y2="688.4" stroke="#231f20" stroke-width="1.3" stroke-linecap="butt"/>
<line x1="651" y1="656" x2="651" y2="688.4" stroke="#231f20" stroke-width="1.3" stroke-linecap="butt"/>
<line x1="654.6" y1="656" x2="654.6" y2="688.4" stroke="#231f20" stroke-width="1.3" stroke-linecap="butt"/>
<path d="M662,663.1 L667,669.1 L667,673.1 L662,679.1" fill="#666" stroke="#231f20" stroke-width="1.4" />
<line x1="646.7" y1="543" x2="646.7" y2="579" stroke="#231f20" stroke-width="1.3" stroke-linecap="butt"/>
<line x1="646.7" y1="633.5" x2="646.7" y2="656" stroke="#231f20" stroke-width="1.3" stroke-linecap="butt"/>
<line x1="651" y1="543" x2="651" y2="579" stroke="#231f20" stroke-width="1.3" stroke-linecap="butt"/>
<line x1="651" y1="633.5" x2="651" y2="656" stroke="#231f20" stroke-width="1.3" stroke-linecap="butt"/>
<line x1="654.6" y1="543" x2="654.6" y2="579" stroke="#231f20" stroke-width="1.3" stroke-linecap="butt"/>
<line x1="654.6" y1="633.5" x2="654.6" y2="656" stroke="#231f20" stroke-width="1.3" stroke-linecap="butt"/>
<path d="M540.6,546 L540.6,505.7 Q540.6,495.7 550.6,495.7 L628,495.7 Q638,495.7 638,505.7 L638,554 Q638,558 634,561" fill="none" stroke="#231f20" stroke-width="1.7" />
<path d="M540.6,546 Q540.6,558 552.6,558 L628,558" fill="none" stroke="#231f20" stroke-width="1.7" />
<line x1="571.3" y1="495.7" x2="571.3" y2="558" stroke="#231f20" stroke-width="1.5" stroke-linecap="butt"/>
<line x1="626" y1="495.7" x2="626" y2="558" stroke="#231f20" stroke-width="1.5" stroke-linecap="butt"/>
<rect x="583.6" y="512" width="30.8" height="29.6" rx="3.5" fill="none" stroke="#231f20" stroke-width="1.5"/>
<rect x="536.6" y="558" width="99.4" height="3" rx="0" fill="#231f20" stroke="#231f20" stroke-width="1.5"/>
<rect x="575.3" y="555" width="50.7" height="6" rx="0" fill="#fff" stroke="#231f20" stroke-width="1.4"/>
<rect x="536.6" y="548" width="6" height="8" rx="1.5" fill="#fff" stroke="#231f20" stroke-width="1.3"/>
<rect x="534.1" y="556" width="11" height="9" rx="2.5" fill="#fff" stroke="#231f20" stroke-width="1.5"/>
<rect x="535.6" y="565" width="8" height="10.3" rx="1" fill="#fff" stroke="#231f20" stroke-width="1.4"/>
<line x1="535.6" y1="561" x2="543.6" y2="561" stroke="#231f20" stroke-width="1" stroke-linecap="butt"/>
<rect x="631" y="548" width="6" height="8" rx="1.5" fill="#fff" stroke="#231f20" stroke-width="1.3"/>
<rect x="628.5" y="556" width="11" height="9" rx="2.5" fill="#fff" stroke="#231f20" stroke-width="1.5"/>
<rect x="630" y="565" width="8" height="10.3" rx="1" fill="#fff" stroke="#231f20" stroke-width="1.4"/>
<line x1="630" y1="561" x2="638" y2="561" stroke="#231f20" stroke-width="1" stroke-linecap="butt"/>
<rect x="577.8" y="550" width="5" height="5" rx="2" fill="#fff" stroke="#231f20" stroke-width="1.3"/>
<rect x="576.8" y="561" width="7" height="3" rx="0" fill="#231f20" stroke="#231f20" stroke-width="1.2"/>
<rect x="617.5" y="550" width="5" height="5" rx="2" fill="#fff" stroke="#231f20" stroke-width="1.3"/>
<rect x="616.5" y="561" width="7" height="3" rx="0" fill="#231f20" stroke="#231f20" stroke-width="1.2"/>
<path d="M641.7,576.3 L641.7,490.8 Q641.7,489.3 643.2,489.3 L677.5,489.3 Q679,489.3 679,490.8 L679,576.3" fill="none" stroke="#231f20" stroke-width="1.5" />
<rect x="638" y="513.4" width="7" height="27.3" rx="0" fill="#fff" stroke="#231f20" stroke-width="1.4"/>
<line x1="639.5" y1="514.4" x2="639.5" y2="539.7" stroke="#231f20" stroke-width="2.2" stroke-linecap="butt"/>
<rect x="645" y="510.4" width="15" height="33.3" rx="0" fill="#fff" stroke="#231f20" stroke-width="1.6"/>
<line x1="649.95" y1="510.4" x2="649.95" y2="543.7" stroke="#231f20" stroke-width="2.0" stroke-linecap="butt"/>
<line x1="654.9" y1="510.4" x2="654.9" y2="543.7" stroke="#231f20" stroke-width="2.0" stroke-linecap="butt"/>
<line x1="646" y1="510.4" x2="646" y2="543.7" stroke="#231f20" stroke-width="2.2" stroke-linecap="butt"/>
<path d="M660,515.4 L662,523.05 L665,525.05 L665,529.05 L662,531.05 L660,538.7" fill="#555" stroke="#231f20" stroke-width="1.4" />
<line x1="501.8" y1="671.1" x2="698.7" y2="671.1" stroke="#444" stroke-width="1.1" stroke-dasharray="6 4" stroke-linecap="butt"/>
<line x1="733.2" y1="582.8" x2="733.2" y2="760.4" stroke="#2b2b2b" stroke-width="1.3" stroke-linecap="butt"/>
<polygon points="733.2,578.8 736.5,587.3 729.9,587.3" fill="#231f20" stroke="#231f20" stroke-width="0.5" stroke-linejoin="miter"/>
<polygon points="733.2,764.4 729.9,755.9 736.5,755.9" fill="#231f20" stroke="#231f20" stroke-width="0.5" stroke-linejoin="miter"/>
<line x1="767" y1="576.8" x2="767" y2="765.8" stroke="#2b2b2b" stroke-width="1.3" stroke-linecap="butt"/>
<polygon points="767,572.8 770.3,581.3 763.7,581.3" fill="#231f20" stroke="#231f20" stroke-width="0.5" stroke-linejoin="miter"/>
<polygon points="767,769.8 763.7,761.3 770.3,761.3" fill="#231f20" stroke="#231f20" stroke-width="0.5" stroke-linejoin="miter"/>
<line x1="804.6" y1="572.5" x2="804.6" y2="770.1" stroke="#2b2b2b" stroke-width="1.3" stroke-linecap="butt"/>
<polygon points="804.6,568.5 807.9,577 801.3,577" fill="#231f20" stroke="#231f20" stroke-width="0.5" stroke-linejoin="miter"/>
<polygon points="804.6,774.1 801.3,765.6 807.9,765.6" fill="#231f20" stroke="#231f20" stroke-width="0.5" stroke-linejoin="miter"/>
<line x1="700" y1="578.8" x2="736.2" y2="578.8" stroke="#2b2b2b" stroke-width="1.3" stroke-linecap="butt"/>
<line x1="700" y1="764.4" x2="736.2" y2="764.4" stroke="#2b2b2b" stroke-width="1.3" stroke-linecap="butt"/>
<line x1="710" y1="572.8" x2="770" y2="572.8" stroke="#2b2b2b" stroke-width="1.3" stroke-linecap="butt"/>
<line x1="710" y1="769.8" x2="770" y2="769.8" stroke="#2b2b2b" stroke-width="1.3" stroke-linecap="butt"/>
<line x1="700" y1="568.5" x2="807.6" y2="568.5" stroke="#2b2b2b" stroke-width="1.3" stroke-linecap="butt"/>
<line x1="700" y1="774.1" x2="807.6" y2="774.1" stroke="#2b2b2b" stroke-width="1.3" stroke-linecap="butt"/>
<text transform="translate(726.92,670) rotate(-90)" font-size="22" text-anchor="middle" fill="#231f20" textLength="28.6" lengthAdjust="spacingAndGlyphs">Ø1</text>
<text transform="translate(760.42,670) rotate(-90)" font-size="22" text-anchor="middle" fill="#231f20" textLength="28.6" lengthAdjust="spacingAndGlyphs">Ø2</text>
<text transform="translate(798.92,670) rotate(-90)" font-size="22" text-anchor="middle" fill="#231f20" textLength="28.6" lengthAdjust="spacingAndGlyphs">Ø3</text>
<line x1="519.4" y1="815.4" x2="684" y2="815.4" stroke="#2b2b2b" stroke-width="1.3" stroke-linecap="butt"/>
<polygon points="515.4,815.4 523.9,812.1 523.9,818.7" fill="#231f20" stroke="#231f20" stroke-width="0.5" stroke-linejoin="miter"/>
<polygon points="688,815.4 679.5,818.7 679.5,812.1" fill="#231f20" stroke="#231f20" stroke-width="0.5" stroke-linejoin="miter"/>
<line x1="512.3" y1="845.5" x2="691" y2="845.5" stroke="#2b2b2b" stroke-width="1.3" stroke-linecap="butt"/>
<polygon points="508.3,845.5 516.8,842.2 516.8,848.8" fill="#231f20" stroke="#231f20" stroke-width="0.5" stroke-linejoin="miter"/>
<polygon points="695,845.5 686.5,848.8 686.5,842.2" fill="#231f20" stroke="#231f20" stroke-width="0.5" stroke-linejoin="miter"/>
<line x1="515.4" y1="783" x2="515.4" y2="818.4" stroke="#2b2b2b" stroke-width="1.3" stroke-linecap="butt"/>
<line x1="688" y1="783" x2="688" y2="818.4" stroke="#2b2b2b" stroke-width="1.3" stroke-linecap="butt"/>
<line x1="508.3" y1="782" x2="508.3" y2="849.5" stroke="#2b2b2b" stroke-width="1.3" stroke-linecap="butt"/>
<line x1="695" y1="782" x2="695" y2="849.5" stroke="#2b2b2b" stroke-width="1.3" stroke-linecap="butt"/>
<text x="603.65" y="811.4" font-size="21.5" text-anchor="middle" fill="#231f20" textLength="23" lengthAdjust="spacingAndGlyphs">L2</text>
<text x="603.65" y="841.5" font-size="21.5" text-anchor="middle" fill="#231f20" textLength="23" lengthAdjust="spacingAndGlyphs">L1</text>
<text x="720.3" y="805.7" font-size="21.5" text-anchor="start" fill="#231f20" textLength="50.5" lengthAdjust="spacingAndGlyphs">n-Ød2</text>
<polyline points="688,783 709.5,812.2 788,812.2" fill="none" stroke="#2b2b2b" stroke-width="1.3" stroke-linejoin="miter"/>
<line x1="871.4" y1="717.3" x2="871.4" y2="781.1" stroke="#231f20" stroke-width="1.7" stroke-linecap="butt"/>
<line x1="1057.1" y1="717.3" x2="1057.1" y2="781.1" stroke="#231f20" stroke-width="1.7" stroke-linecap="butt"/>
<line x1="885.6" y1="739.6" x2="885.6" y2="767" stroke="#231f20" stroke-width="1.7" stroke-linecap="butt"/>
<line x1="1042.5" y1="739.6" x2="1042.5" y2="767" stroke="#231f20" stroke-width="1.7" stroke-linecap="butt"/>
<line x1="885.6" y1="767" x2="1042.5" y2="767" stroke="#231f20" stroke-width="1.7" stroke-linecap="butt"/>
<line x1="885.6" y1="767" x2="872.4" y2="781.1" stroke="#231f20" stroke-width="1.7" stroke-linecap="butt"/>
<line x1="1042.5" y1="767" x2="1056.1" y2="781.1" stroke="#231f20" stroke-width="1.7" stroke-linecap="butt"/>
<line x1="870.4" y1="781.1" x2="1058.1" y2="781.1" stroke="#231f20" stroke-width="2.2" stroke-linecap="butt"/>
<circle cx="964" cy="671.9" r="102.4" fill="#fff" stroke="#231f20" stroke-width="1.7"/>
<circle cx="964" cy="671.9" r="98.7" fill="none" stroke="#231f20" stroke-width="1.3"/>
<circle cx="964" cy="671.9" r="92.3" fill="none" stroke="#231f20" stroke-width="1.7"/>
<circle cx="1047.57" cy="623.65" r="1.8" fill="#666" stroke="#231f20" stroke-width="1.3"/>
<circle cx="964" cy="575.4" r="1.8" fill="#666" stroke="#231f20" stroke-width="1.3"/>
<circle cx="880.43" cy="623.65" r="1.8" fill="#666" stroke="#231f20" stroke-width="1.3"/>
<circle cx="880.43" cy="720.15" r="1.8" fill="#666" stroke="#231f20" stroke-width="1.3"/>
<circle cx="964" cy="768.4" r="1.8" fill="#666" stroke="#231f20" stroke-width="1.3"/>
<circle cx="1047.57" cy="720.15" r="1.8" fill="#666" stroke="#231f20" stroke-width="1.3"/>
<line x1="977.74" y1="574.16" x2="976.92" y2="580" stroke="#231f20" stroke-width="1.5" stroke-linecap="butt"/>
<line x1="1013.35" y1="586.42" x2="1010.4" y2="591.53" stroke="#231f20" stroke-width="1.5" stroke-linecap="butt"/>
<line x1="937.4" y1="583.52" x2="937.4" y2="600" stroke="#231f20" stroke-width="1.8" stroke-linecap="butt"/>
<line x1="990.5" y1="583.49" x2="990.5" y2="600" stroke="#231f20" stroke-width="1.8" stroke-linecap="butt"/>
<path d="M990.42,687.15 L1052.5,685.4 A89.52,89.52 0 0 0 1052.5,658.4 L990.42,656.65 L1019.94,602.01 A89.52,89.52 0 0 0 996.56,588.51 L964,641.39 L931.44,588.51 A89.52,89.52 0 0 0 908.06,602.01 L937.58,656.65 L875.5,658.4 A89.52,89.52 0 0 0 875.5,685.4 L937.58,687.15 L908.06,741.79 A89.52,89.52 0 0 0 931.44,755.29 L964,702.41 L996.56,755.29 A89.52,89.52 0 0 0 1019.94,741.79 Z" fill="#fff" stroke="#231f20" stroke-width="1.7" />
<line x1="875.5" y1="658.1" x2="935.2" y2="656.41" stroke="#231f20" stroke-width="2.6" stroke-linecap="butt"/>
<circle cx="964" cy="671.9" r="27.5" fill="#fff" stroke="#231f20" stroke-width="1.7"/>
<circle cx="964" cy="671.9" r="17.2" fill="none" stroke="#231f20" stroke-width="1.4"/>
<circle cx="964" cy="671.9" r="14" fill="none" stroke="#231f20" stroke-width="1.4"/>
<circle cx="964" cy="671.9" r="10.5" fill="none" stroke="#231f20" stroke-width="1.4"/>
<circle cx="964" cy="671.9" r="3.4" fill="none" stroke="#231f20" stroke-width="1.4"/>
<circle cx="964" cy="671.9" r="3.4" fill="#666" stroke="#231f20" stroke-width="1.4"/>
<line x1="848" y1="671.9" x2="1105" y2="671.9" stroke="#333" stroke-width="1.2" stroke-dasharray="6 4" stroke-linecap="butt"/>
<line x1="964" y1="489" x2="964" y2="781" stroke="#333" stroke-width="1.2" stroke-dasharray="6 4" stroke-linecap="butt"/>
<rect x="933.99" y="548.2" width="10.62" height="18.8" rx="1" fill="#fff" stroke="#231f20" stroke-width="1.4"/>
<line x1="936.64" y1="549.2" x2="936.64" y2="566" stroke="#231f20" stroke-width="1.3" stroke-linecap="butt"/>
<line x1="939.29" y1="549.2" x2="939.29" y2="566" stroke="#231f20" stroke-width="1.3" stroke-linecap="butt"/>
<line x1="941.95" y1="549.2" x2="941.95" y2="566" stroke="#231f20" stroke-width="1.3" stroke-linecap="butt"/>
<line x1="934.49" y1="551.96" x2="944.1" y2="551.96" stroke="#231f20" stroke-width="1.2" stroke-linecap="butt"/>
<line x1="934.49" y1="555.72" x2="944.1" y2="555.72" stroke="#231f20" stroke-width="1.2" stroke-linecap="butt"/>
<line x1="934.49" y1="559.48" x2="944.1" y2="559.48" stroke="#231f20" stroke-width="1.2" stroke-linecap="butt"/>
<line x1="934.49" y1="563.24" x2="944.1" y2="563.24" stroke="#231f20" stroke-width="1.2" stroke-linecap="butt"/>
<rect x="926.1" y="547.2" width="7.09" height="11.1" rx="1.2" fill="#fff" stroke="#231f20" stroke-width="1.6"/>
<rect x="924.1" y="558.3" width="11.09" height="7" rx="1.5" fill="#fff" stroke="#231f20" stroke-width="1.6"/>
<rect x="925.8" y="565.3" width="7.69" height="11.14" rx="0" fill="#fff" stroke="#231f20" stroke-width="1.6"/>
<line x1="924.3" y1="561.8" x2="934.99" y2="561.8" stroke="#231f20" stroke-width="1.0" stroke-linecap="butt"/>
<rect x="983.5" y="548.2" width="10.31" height="18.8" rx="1" fill="#fff" stroke="#231f20" stroke-width="1.4"/>
<line x1="986.08" y1="549.2" x2="986.08" y2="566" stroke="#231f20" stroke-width="1.3" stroke-linecap="butt"/>
<line x1="988.66" y1="549.2" x2="988.66" y2="566" stroke="#231f20" stroke-width="1.3" stroke-linecap="butt"/>
<line x1="991.24" y1="549.2" x2="991.24" y2="566" stroke="#231f20" stroke-width="1.3" stroke-linecap="butt"/>
<line x1="984" y1="551.96" x2="993.31" y2="551.96" stroke="#231f20" stroke-width="1.2" stroke-linecap="butt"/>
<line x1="984" y1="555.72" x2="993.31" y2="555.72" stroke="#231f20" stroke-width="1.2" stroke-linecap="butt"/>
<line x1="984" y1="559.48" x2="993.31" y2="559.48" stroke="#231f20" stroke-width="1.2" stroke-linecap="butt"/>
<line x1="984" y1="563.24" x2="993.31" y2="563.24" stroke="#231f20" stroke-width="1.2" stroke-linecap="butt"/>
<rect x="994.61" y="547.2" width="7.09" height="11.1" rx="1.2" fill="#fff" stroke="#231f20" stroke-width="1.6"/>
<rect x="992.61" y="558.3" width="11.09" height="7" rx="1.5" fill="#fff" stroke="#231f20" stroke-width="1.6"/>
<rect x="994.31" y="565.3" width="7.69" height="11.06" rx="0" fill="#fff" stroke="#231f20" stroke-width="1.6"/>
<line x1="992.81" y1="561.8" x2="1003.5" y2="561.8" stroke="#231f20" stroke-width="1.0" stroke-linecap="butt"/>
<line x1="925.3" y1="561.3" x2="1002.5" y2="561.3" stroke="#231f20" stroke-width="2.6" stroke-linecap="butt"/>
<rect x="994" y="511.4" width="13" height="29.4" rx="2.5" fill="#fff" stroke="#231f20" stroke-width="1.5"/>
<polyline points="997,515.4 1004,534.8 997,520.4 1004,537.8" fill="none" stroke="#231f20" stroke-width="1.2" stroke-linejoin="miter"/>
<circle cx="964" cy="527.6" r="31" fill="#fff" stroke="#231f20" stroke-width="1.7"/>
<circle cx="964" cy="527.6" r="28" fill="none" stroke="#231f20" stroke-width="1.4"/>
<circle cx="964" cy="527.6" r="8.06" fill="none" stroke="#231f20" stroke-width="2.2"/>
<circle cx="964" cy="527.6" r="5.86" fill="none" stroke="#231f20" stroke-width="1.0"/>
<line x1="973.3" y1="527.6" x2="984.77" y2="527.6" stroke="#231f20" stroke-width="3.4" stroke-linecap="round"/>
<line x1="973.3" y1="527.6" x2="984.77" y2="527.6" stroke="#fff" stroke-width="1.3" stroke-linecap="round"/>
<line x1="972.05" y1="532.25" x2="981.99" y2="537.99" stroke="#231f20" stroke-width="3.4" stroke-linecap="round"/>
<line x1="972.05" y1="532.25" x2="981.99" y2="537.99" stroke="#fff" stroke-width="1.3" stroke-linecap="round"/>
<line x1="968.65" y1="535.65" x2="974.38" y2="545.59" stroke="#231f20" stroke-width="3.4" stroke-linecap="round"/>
<line x1="968.65" y1="535.65" x2="974.38" y2="545.59" stroke="#fff" stroke-width="1.3" stroke-linecap="round"/>
<line x1="964" y1="536.9" x2="964" y2="548.37" stroke="#231f20" stroke-width="3.4" stroke-linecap="round"/>
<line x1="964" y1="536.9" x2="964" y2="548.37" stroke="#fff" stroke-width="1.3" stroke-linecap="round"/>
<line x1="959.35" y1="535.65" x2="953.62" y2="545.59" stroke="#231f20" stroke-width="3.4" stroke-linecap="round"/>
<line x1="959.35" y1="535.65" x2="953.62" y2="545.59" stroke="#fff" stroke-width="1.3" stroke-linecap="round"/>
<line x1="955.95" y1="532.25" x2="946.01" y2="537.99" stroke="#231f20" stroke-width="3.4" stroke-linecap="round"/>
<line x1="955.95" y1="532.25" x2="946.01" y2="537.99" stroke="#fff" stroke-width="1.3" stroke-linecap="round"/>
<line x1="954.7" y1="527.6" x2="943.23" y2="527.6" stroke="#231f20" stroke-width="3.4" stroke-linecap="round"/>
<line x1="954.7" y1="527.6" x2="943.23" y2="527.6" stroke="#fff" stroke-width="1.3" stroke-linecap="round"/>
<line x1="955.95" y1="522.95" x2="946.01" y2="517.22" stroke="#231f20" stroke-width="3.4" stroke-linecap="round"/>
<line x1="955.95" y1="522.95" x2="946.01" y2="517.22" stroke="#fff" stroke-width="1.3" stroke-linecap="round"/>
<line x1="959.35" y1="519.55" x2="953.62" y2="509.61" stroke="#231f20" stroke-width="3.4" stroke-linecap="round"/>
<line x1="959.35" y1="519.55" x2="953.62" y2="509.61" stroke="#fff" stroke-width="1.3" stroke-linecap="round"/>
<line x1="964" y1="518.3" x2="964" y2="506.83" stroke="#231f20" stroke-width="3.4" stroke-linecap="round"/>
<line x1="964" y1="518.3" x2="964" y2="506.83" stroke="#fff" stroke-width="1.3" stroke-linecap="round"/>
<line x1="968.65" y1="519.55" x2="974.38" y2="509.61" stroke="#231f20" stroke-width="3.4" stroke-linecap="round"/>
<line x1="968.65" y1="519.55" x2="974.38" y2="509.61" stroke="#fff" stroke-width="1.3" stroke-linecap="round"/>
<line x1="972.05" y1="522.95" x2="981.99" y2="517.22" stroke="#231f20" stroke-width="3.4" stroke-linecap="round"/>
<line x1="972.05" y1="522.95" x2="981.99" y2="517.22" stroke="#fff" stroke-width="1.3" stroke-linecap="round"/>
<circle cx="964" cy="527.6" r="8.06" fill="#fff" stroke="#231f20" stroke-width="2.0"/>
<circle cx="964" cy="527.6" r="5.86" fill="none" stroke="#231f20" stroke-width="1.0"/>
<line x1="964" y1="489" x2="964" y2="558.6" stroke="#444" stroke-width="1.0" stroke-dasharray="6 4" stroke-linecap="butt"/>
<line x1="1101.3" y1="675.9" x2="1101.3" y2="777.1" stroke="#2b2b2b" stroke-width="1.3" stroke-linecap="butt"/>
<polygon points="1101.3,671.9 1104.6,680.4 1098,680.4" fill="#231f20" stroke="#231f20" stroke-width="0.5" stroke-linejoin="miter"/>
<polygon points="1101.3,781.1 1098,772.6 1104.6,772.6" fill="#231f20" stroke="#231f20" stroke-width="0.5" stroke-linejoin="miter"/>
<line x1="1134.5" y1="499.8" x2="1134.5" y2="777.1" stroke="#2b2b2b" stroke-width="1.3" stroke-linecap="butt"/>
<polygon points="1134.5,495.8 1137.8,504.3 1131.2,504.3" fill="#231f20" stroke="#231f20" stroke-width="0.5" stroke-linejoin="miter"/>
<polygon points="1134.5,781.1 1131.2,772.6 1137.8,772.6" fill="#231f20" stroke="#231f20" stroke-width="0.5" stroke-linejoin="miter"/>
<line x1="971.6" y1="495.8" x2="1137.5" y2="495.8" stroke="#2b2b2b" stroke-width="1.3" stroke-linecap="butt"/>
<line x1="1059.7" y1="781.1" x2="1137.5" y2="781.1" stroke="#2b2b2b" stroke-width="1.3" stroke-linecap="butt"/>
<line x1="1095.3" y1="671.9" x2="1105.3" y2="671.9" stroke="#2b2b2b" stroke-width="1.3" stroke-linecap="butt"/>
<text transform="translate(1096.5,730.5) rotate(-90)" font-size="21.5" text-anchor="middle" fill="#231f20" textLength="26" lengthAdjust="spacingAndGlyphs">H1</text>
<text transform="translate(1127,642.5) rotate(-90)" font-size="21.5" text-anchor="middle" fill="#231f20" textLength="26" lengthAdjust="spacingAndGlyphs">H2</text>
<line x1="883.5" y1="812.5" x2="1044.2" y2="812.5" stroke="#2b2b2b" stroke-width="1.3" stroke-linecap="butt"/>
<polygon points="879.5,812.5 888,809.2 888,815.8" fill="#231f20" stroke="#231f20" stroke-width="0.5" stroke-linejoin="miter"/>
<polygon points="1048.2,812.5 1039.7,815.8 1039.7,809.2" fill="#231f20" stroke="#231f20" stroke-width="0.5" stroke-linejoin="miter"/>
<line x1="875.4" y1="842.5" x2="1053.1" y2="842.5" stroke="#2b2b2b" stroke-width="1.3" stroke-linecap="butt"/>
<polygon points="871.4,842.5 879.9,839.2 879.9,845.8" fill="#231f20" stroke="#231f20" stroke-width="0.5" stroke-linejoin="miter"/>
<polygon points="1057.1,842.5 1048.6,845.8 1048.6,839.2" fill="#231f20" stroke="#231f20" stroke-width="0.5" stroke-linejoin="miter"/>
<line x1="879.5" y1="782" x2="879.5" y2="815.5" stroke="#2b2b2b" stroke-width="1.3" stroke-dasharray="5 3" stroke-linecap="butt"/>
<line x1="1048.2" y1="782" x2="1048.2" y2="815.5" stroke="#2b2b2b" stroke-width="1.3" stroke-dasharray="5 3" stroke-linecap="butt"/>
<line x1="871.4" y1="790" x2="871.4" y2="845.5" stroke="#2b2b2b" stroke-width="1.3" stroke-linecap="butt"/>
<line x1="1057.1" y1="790" x2="1057.1" y2="845.5" stroke="#2b2b2b" stroke-width="1.3" stroke-linecap="butt"/>
<text x="960.5" y="809" font-size="21.5" text-anchor="middle" fill="#231f20" textLength="23" lengthAdjust="spacingAndGlyphs">L4</text>
<text x="960.5" y="839" font-size="21.5" text-anchor="middle" fill="#231f20" textLength="23" lengthAdjust="spacingAndGlyphs">L3</text>
<text x="1061.8" y="598.5" font-size="21.5" text-anchor="start" fill="#231f20" textLength="45.5" lengthAdjust="spacingAndGlyphs">n-Ød1</text>
<polyline points="1034.4,642 1063.8,604 1119.5,604" fill="none" stroke="#2b2b2b" stroke-width="1.3" stroke-linejoin="miter"/>
<text x="739.7" y="873.5" font-size="24" text-anchor="start" fill="#2a2a2a" textLength="128" lengthAdjust="spacingAndGlyphs">T30 9C ~ 12C</text>
</svg></body></html>
